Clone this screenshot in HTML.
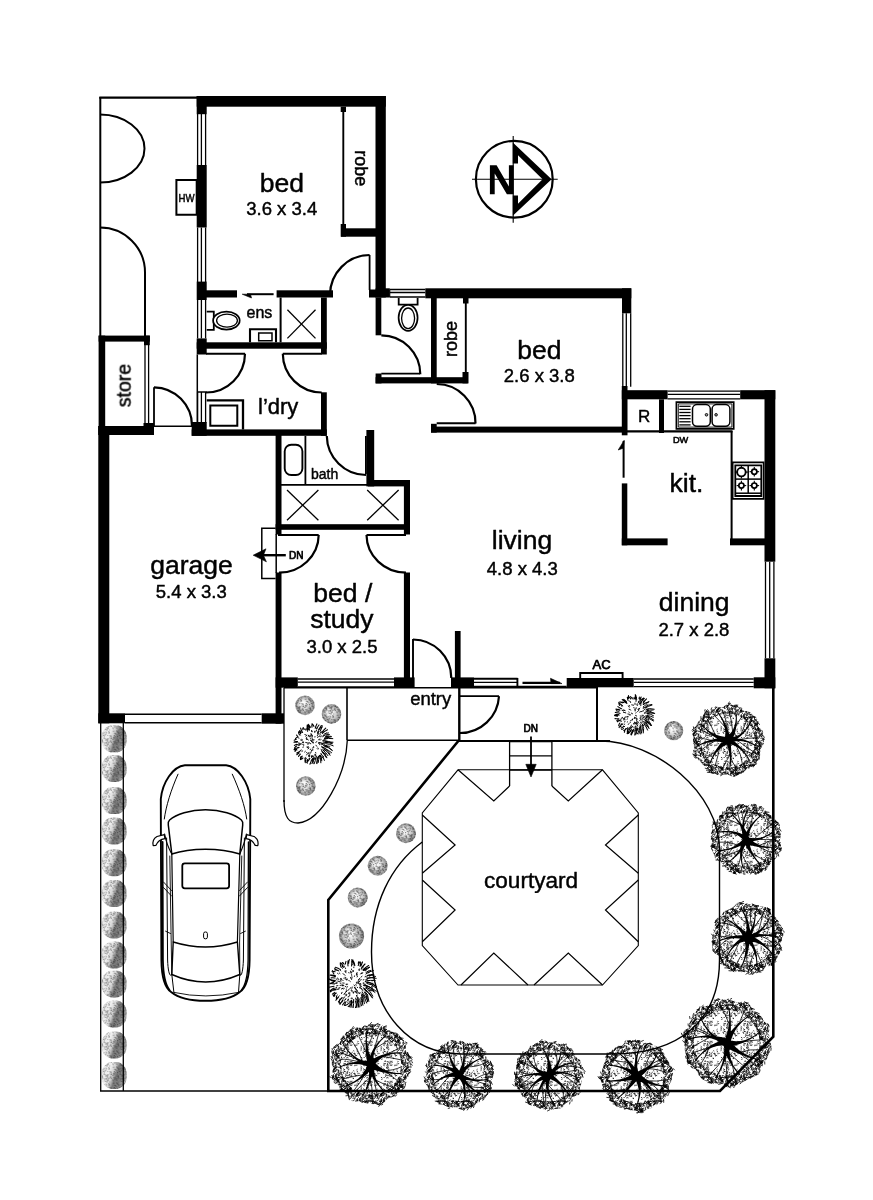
<!DOCTYPE html>
<html><head><meta charset="utf-8"><title>Floor plan</title>
<style>html,body{margin:0;padding:0;background:#fff;}svg{display:block;}text{font-family:"Liberation Sans",sans-serif;}</style>
</head><body>
<svg width="873" height="1200" viewBox="0 0 873 1200">
<rect width="873" height="1200" fill="#fff"/>
<defs>
<pattern id="pRim" width="24" height="24" patternUnits="userSpaceOnUse"><path d="M10.9,13.4l1.4,-.7l1.1,-.5M4.4,12.3l-1.3,-1.4l-.7,.5M2.2,19.4l-.4,-1l1.5,-.3M26.2,19.4l-.4,-1l1.5,-.3M15.7,14.8l.6,.9l.3,.6M4.6,5.8l1.5,.3l1.4,0M12.5,15.4l-1.8,0l-.9,.1M23.9,23.9l1,-1.6l-.1,-.8M23.9,-.1l1,-1.6l-.1,-.8M-.1,23.9l1,-1.6l-.1,-.8M-.1,-.1l1,-1.6l-.1,-.8M6.9,1.7l.1,-1.5l1,-.2M6.9,25.7l.1,-1.5l1,-.2M23,20.3l1.3,0l.1,1.1M-1,20.3l1.3,0l.1,1.1M23.5,9.5l1.6,.8l.1,.9M-.5,9.5l1.6,.8l.1,.9M2.1,8l1.9,-.4l0,-.8M26.1,8l1.9,-.4l0,-.8M2.4,1.4l.4,-1.2l.5,-.9M2.4,25.4l.4,-1.2l.5,-.9M26.4,1.4l.4,-1.2l.5,-.9M26.4,25.4l.4,-1.2l.5,-.9M4.6,17.6l1.2,1.3l.9,-.5M5.1,6.5l1.9,-.4l.9,-1.2M5.1,9.5l1.1,-1.4l-1.1,-1.1M5.1,6.2l.2,-1.4l-.4,-.6M2.2,14l.1,1.7l.5,.9M26.2,14l.1,1.7l.5,.9M23,11.6l-1.8,-.9l-.6,.5M-1,11.6l-1.8,-.9l-.6,.5M21.8,19.6l0,1.2l-1.2,1M-2.2,19.6l0,1.2l-1.2,1M4.7,22.8l1.3,-1.2l.4,-.6M4.7,-1.2l1.3,-1.2l.4,-.6M.9,23.1l.1,1.8l1.2,.8M.9,-.9l.1,1.8l1.2,.8M24.9,23.1l.1,1.8l1.2,.8M24.9,-.9l.1,1.8l1.2,.8M14.3,7l.8,1.7l.7,-.4M13.4,20.5l-1,-.9l.5,-.6M.4,6.5l-1,.4l-.1,1M24.4,6.5l-1,.4l-.1,1M13.7,3.2l-1.3,1.6l-.8,-1M16.6,14l.7,.8l1,-1.1M16.8,23.1l1.7,.2l1.3,.1M16.8,-.9l1.7,.2l1.3,.1M7.7,24l1.5,.8l.4,1.5M7.7,0l1.5,.8l.4,1.5M17.7,16.9l.6,-2l-.3,-1.2M21.6,20.9l-1.7,1l-.8,-.8M-2.4,20.9l-1.7,1l-.8,-.8M15,9.2l-1.5,-.9l-.7,1M23.8,21.1l-.2,-1.5l.8,-.9M23.8,-2.9l-.2,-1.5l.8,-.9M-.2,21.1l-.2,-1.5l.8,-.9M-.2,-2.9l-.2,-1.5l.8,-.9M10.6,20.1l1.6,1l.5,-1.1M11.5,5.5l-.5,-1.5l.1,-1.5M6.1,.3l-.6,1.7l.5,.6M6.1,24.3l-.6,1.7l.5,.6M21.7,15.8l-1.9,.7l-.7,1.1M-2.3,15.8l-1.9,.7l-.7,1.1M4.8,10.3l.7,-2l1,.1M14,7.6l1,1.2l-.7,1.3M17.1,22.8l-.2,1.2l0,.9M17.1,-1.2l-.2,1.2l0,.9M5.1,9.9l-1.1,-1.1l-1.4,-.2M23.6,10.9l.9,.5l-.2,.6M-.4,10.9l.9,.5l-.2,.6M17,13.7l-.7,1.8l.7,.2M10.9,.6l.6,-1.1l-.5,-.5M10.9,24.6l.6,-1.1l-.5,-.5M15.1,10.7l-1.2,-1.3l.5,-1.5M16.4,4.8l-1.2,.2l.4,1M17.1,4.3l-.2,1.4l-.8,.7M14.7,18.1l-1.5,1.2l-.5,-.5M22.4,17.3l1.1,1.1l.5,1.4M-1.6,17.3l1.1,1.1l.5,1.4M9,13.7l1.4,-1.3l.7,.8M15.6,4.9l-.4,-2l.4,-1.2M5.1,21.6l2.2,-.3l1.4,0M5.1,-2.4l2.2,-.3l1.4,0M7.7,21.8l.9,-1.1l-.8,-.7M7.7,-2.2l.9,-1.1l-.8,-.7M13.2,18.4l-1,.1l-.3,-.6M19.2,4.1l-1,1.7l.5,.5M12.4,17.4l1,-1.5l.9,.6M22.8,2.1l.3,1.6l1.1,.8M22.8,26.1l.3,1.6l1.1,.8M-1.2,2.1l.3,1.6l1.1,.8M-1.2,26.1l.3,1.6l1.1,.8M15.3,12.5l.9,-1.4l-.1,-1M20.3,21.6l.5,2l-1.1,.2M20.3,-2.4l.5,2l-1.1,.2M13.8,4.8l-1.6,-.4l-.5,-.4M23.3,12.4l-1.6,1.1l-1,.4M-.7,12.4l-1.6,1.1l-1,.4M16.6,1.6l-1.5,-.4l.5,-1.4M16.6,25.6l-1.5,-.4l.5,-1.4M6.5,11.4l1.1,1.1l-.5,1.4M11.4,7.6l.6,1.6l-.7,.3M18.7,.5l.4,1.2l-.3,.9M18.7,24.5l.4,1.2l-.3,.9M8.5,14.9l1.5,1.1l.8,-.7M6,4.7l-1.5,-.3l-1,.3M12.7,3.8l.5,1.7l-.2,1.1M20.4,14.7l.8,-1l1.4,-.1M21.7,7.6l-.8,1.9l.9,1.3M-2.3,7.6l-.8,1.9l.9,1.3M21.3,3.2l.1,1.9l.6,.4M-2.7,3.2l.1,1.9l.6,.4M20,10.1l.3,-1.1l-.1,-1.3M.4,4.8l-.9,-1.9l.7,-.2M24.4,4.8l-.9,-1.9l.7,-.2M12.1,18.2l-1.8,0l-.3,.6M2.5,.9l-1.5,-.5l-.6,-.4M2.5,24.9l-1.5,-.5l-.6,-.4M26.5,.9l-1.5,-.5l-.6,-.4M26.5,24.9l-1.5,-.5l-.6,-.4M4.4,4.9l1.2,-1.8l.6,.4M1.5,22.8l-1.9,.5l-.7,.8M1.5,-1.2l-1.9,.5l-.7,.8M25.5,22.8l-1.9,.5l-.7,.8M25.5,-1.2l-1.9,.5l-.7,.8M12.4,10.3l-.8,-.6l-.3,-1.4M4.4,10.9l-.1,-1.5l-.7,-.3M12.3,.4l1.5,-1.2l1.5,.1M12.3,24.4l1.5,-1.2l1.5,.1M15.1,9.7l-1.3,-.9l1,-1M6.2,21.9l-.1,-1.9l.9,-.5M6.2,-2.1l-.1,-1.9l.9,-.5M21.5,21.1l-.7,-1.8l.6,-.8M21.5,-2.9l-.7,-1.8l.6,-.8M-2.5,21.1l-.7,-1.8l.6,-.8M-2.5,-2.9l-.7,-1.8l.6,-.8M17.3,1.7l-.9,1.3l.9,.4M17.3,25.7l-.9,1.3l.9,.4M15.3,15l.2,2.1l-.4,.8M15.8,13.7l-1.4,-.3l.5,-1.1M16.8,18.3l1,-.1l1.3,.4M6.2,9.6l1.2,.4l.7,-.1M6,21.7l-1.5,-.5l.5,-1.1M6,-2.3l-1.5,-.5l.5,-1.1M23.9,15.3l.4,-1l.9,-1M-.1,15.3l.4,-1l.9,-1M1.1,22.3l.8,1.3l1.1,-.2M1.1,-1.7l.8,1.3l1.1,-.2M25.1,22.3l.8,1.3l1.1,-.2M25.1,-1.7l.8,1.3l1.1,-.2M14.7,1.4l1.4,-.5l1.2,-.3M14.7,25.4l1.4,-.5l1.2,-.3M8.8,6.9l-.9,-1.4l-1.3,-.3M7.1,.3l0,1.1l1.3,.4M7.1,24.3l0,1.1l1.3,.4M9.4,21.5l0,-1.1l1.5,.3M9.4,-2.5l0,-1.1l1.5,.3M1.8,21.7l-1.4,.7l-.3,-.8M1.8,-2.3l-1.4,.7l-.3,-.8M25.8,21.7l-1.4,.7l-.3,-.8M25.8,-2.3l-1.4,.7l-.3,-.8M12.6,22.5l-.3,-1.5l1.4,0M12.6,-1.5l-.3,-1.5l1.4,0M14.5,2.8l-1.1,-1.1l-.6,.2M14.5,26.8l-1.1,-1.1l-.6,.2M12.7,3l-1.7,.6l-.7,.4M12.7,27l-1.7,.6l-.7,.4M14,10.1l.3,-1.6l1.4,.6M17.6,5.7l1.6,1.4l-.2,1.2M8.6,6.5l-.7,-1.5l-.1,-1.2M18.1,4.6l0,2.2l-1.5,.1M.9,1.5l-.2,1.5l-.4,.6M.9,25.5l-.2,1.5l-.4,.6M24.9,1.5l-.2,1.5l-.4,.6M24.9,25.5l-.2,1.5l-.4,.6M13,1.7l1.6,.9l.9,.8M13,25.7l1.6,.9l.9,.8M9,11.5l.3,1.4l-.9,1.2M1.8,2.9l.6,-1.6l.8,-.2M1.8,26.9l.6,-1.6l.8,-.2M25.8,2.9l.6,-1.6l.8,-.2M25.8,26.9l.6,-1.6l.8,-.2M10.2,6.2l.5,-1.3l1.3,-1M7.8,13.2l-.1,-2.1l-.3,-.9M2.3,21l1,.5l.8,.7M2.3,-3l1,.5l.8,.7M26.3,21l1,.5l.8,.7M26.3,-3l1,.5l.8,.7M16.4,7.2l.2,-1.1l-1,-.8M2,7.3l-.3,-1.8l-.6,-.4M26,7.3l-.3,-1.8l-.6,-.4M8.6,17.4l-.8,.9l-1.2,.1M22,22.6l1.3,-.8l.8,.5M22,-1.4l1.3,-.8l.8,.5M-2,22.6l1.3,-.8l.8,.5M-2,-1.4l1.3,-.8l.8,.5M7.6,9.6l1.9,-.8l.2,-.9M8.8,8.7l-1.2,.9l.2,1.1M19.1,13l.9,-1.4l-.8,-1.1M21.1,6.8l1.6,.2l1.1,.3M-2.9,6.8l1.6,.2l1.1,.3M23.2,15.6l.4,-1l.7,-1.2M-.8,15.6l.4,-1l.7,-1.2M2,2l-.2,-2.1l-1.2,0M2,26l-.2,-2.1l-1.2,0M26,2l-.2,-2.1l-1.2,0M26,26l-.2,-2.1l-1.2,0M3.5,17.9l-.8,-1l-1.4,.1M12.5,18.4l-1.1,.9l-.7,-1.1M11.8,12.9l-.3,-1.8l1,-.3M19.8,16l1.2,-1.6l1.4,.4M23,15.4l-1.8,-.3l-.3,-1M-1,15.4l-1.8,-.3l-.3,-1M10.1,3.5l-.1,-2.2l-.4,-.7M4.9,10.2l-.6,2.1l.9,.2M2.8,15.6l.2,-1.2l-1,-.2M26.8,15.6l.2,-1.2l-1,-.2M14,21.8l1.1,.3l.5,-.6M14,-2.2l1.1,.3l.5,-.6M5.6,17.2l-1.1,-.7l-.8,.5M4.1,18.2l-.6,1.5l-1.1,0M6.3,21.3l1.2,-.7l1.5,-.6M6.3,-2.7l1.2,-.7l1.5,-.6M11.6,5.3l2,.7l.2,1M12.7,12.4l-.3,2.2l-.6,.6M.3,11.3l-1.4,1.4l-1.2,0M24.3,11.3l-1.4,1.4l-1.2,0M3.8,3.8l-.6,1.2l-1.1,-.2M15.3,23.8l-.2,1.6l1.3,.6M15.3,-.2l-.2,1.6l1.3,.6M0,19.7l1.1,-1.6l-.7,-.5M24,19.7l1.1,-1.6l-.7,-.5M17.2,2.3l-1.5,.2l-.1,-1.2M17.2,26.3l-1.5,.2l-.1,-1.2M20.6,7.3l.4,-1.5l.7,.1M19.8,5l-1.6,-.4l-.8,1.2M7.5,7.5l1.2,.6l1.2,.5M8.6,16.5l1.2,.9l1.4,.8M19.9,15.7l1.4,.1l.6,.6M13.5,11l2.2,.1l.3,.7M14.8,7l-1.2,1.2l-.1,.9M9.4,16l0,1.2l-.7,.6M22.7,13.5l-.2,-1.4l.6,-.4M-1.3,13.5l-.2,-1.4l.6,-.4M3.4,2.3l-.8,-1.7l-1,0M3.4,26.3l-.8,-1.7l-1,0M20.1,14.2l1.1,.7l.6,-.4M9.8,1.7l1.3,-.7l1.1,-.6M9.8,25.7l1.3,-.7l1.1,-.6M18.4,19.7l-1.1,.9l-.3,.5M9.6,16.8l1.9,-.2l1.1,.5M.4,7.9l-1,1.5l.7,.7M24.4,7.9l-1,1.5l.7,.7M12.2,18.9l.8,-1.5l-.9,-1M21.7,13.2l-1,1.3l.8,1M-2.3,13.2l-1,1.3l.8,1M23.7,12.4l-.4,-2l-1.5,-.4M-.3,12.4l-.4,-2l-1.5,-.4M15.1,4.7l1.1,.6l.9,.9M7.9,22.3l-1,1.2l1,1.2M7.9,-1.7l-1,1.2l1,1.2M3.3,21.7l-1.6,-.4l-.8,-.4M3.3,-2.3l-1.6,-.4l-.8,-.4M21.8,23.8l.7,-1.6l-1.1,-.8M21.8,-.2l.7,-1.6l-1.1,-.8M-2.2,23.8l.7,-1.6l-1.1,-.8M-2.2,-.2l.7,-1.6l-1.1,-.8M6.9,21.5l.1,1.7l-.7,.3M6.9,-2.5l.1,1.7l-.7,.3M13.1,1.8l1.2,.2l-.6,1.4M13.1,25.8l1.2,.2l-.6,1.4M15.8,7.4l-.9,-1.7l-1,-.7M19.3,.4l.5,1.5l1,0M19.3,24.4l.5,1.5l1,0M13.7,4.2l-1.3,-.2l-.9,-.3M15.4,.9l-.6,-1l1.1,-.5M15.4,24.9l-.6,-1l1.1,-.5M11.3,9.9l-1.3,-1.3l.2,-1.3M11.7,23.9l1.1,-1.7l.2,-1M11.7,-.1l1.1,-1.7l.2,-1M13.6,21.7l-1.6,-.3l-1.5,.1M13.6,-2.3l-1.6,-.3l-1.5,.1M7.7,1.3l-.3,-2.1l.8,-.9M7.7,25.3l-.3,-2.1l.8,-.9M18,7.3l-.9,-.6l-.8,.7M12.1,9.5l1.7,.6l.8,.3M7.4,9.5l.1,1.1l-1.5,.3M16,20.8l-1.7,.9l-.1,1.3M13.6,21.7l1.6,1.1l.8,-.8M13.6,-2.3l1.6,1.1l.8,-.8M22.8,0l.1,1.4l.4,.5M22.8,24l.1,1.4l.4,.5M-1.2,0l.1,1.4l.4,.5M-1.2,24l.1,1.4l.4,.5M21.5,19.6l-1.1,.9l-.6,.2M-2.5,19.6l-1.1,.9l-.6,.2M.7,21.6l-.6,1.5l-1.5,-.5M.7,-2.4l-.6,1.5l-1.5,-.5M24.7,21.6l-.6,1.5l-1.5,-.5M24.7,-2.4l-.6,1.5l-1.5,-.5M11.3,5l-.6,2l-.8,-.1M20.1,8.5l-1.2,.2l-.6,-1.5M4.8,15.2l.7,1.9l.6,-.3M17.4,7.5l1.7,-1.2l.7,.1M16.7,22.5l-1,.4l-.2,.9M16.7,-1.5l-1,.4l-.2,.9M17.1,4.7l.5,1.2l-.2,1.4M8.9,15.9l1.3,-1.1l-.1,-.9" fill="none" stroke="#000" stroke-width="0.8" stroke-linecap="round"/></pattern>
<pattern id="pDot" width="20" height="20" patternUnits="userSpaceOnUse"><path d="M18.1,13.2l-.1,.7M2.2,19.2l-.6,.2M10.6,1.4l-.4,-.3M5.3,15.8l.4,.2M14.9,5.2l-.1,.6M4,17.5l.3,0M9.3,14.8l-.6,.6M10,3.9l-.6,-.2M7.3,13l.1,-.6M10.1,16.6l-.2,-.6M18.6,3.8l.1,-.4M12.1,5l-.7,.3M15.4,15.5l.1,.6M4.7,11.5l-.3,0M11.8,14.1l-.7,-.4M3.9,3.4l.6,.1M8.8,8.9l-.1,.8M1.9,17.7l-.6,-.3M15.5,5l.3,.4M1.3,6.5l-.4,-.4M5.5,11.7l.7,.4M3.8,5.3l.4,.6M16.3,15.4l.5,.2M7.4,4.6l.3,-.1M9.8,15l.4,0M9.2,14.7l.4,.1M17.4,3.2l-.4,.3M8.6,2l.9,.2M15,14.4l.1,.4M11,5.1l-.8,.2M7.4,6.9l.7,-.1M1.3,8.2l-.2,-.3M7,13.7l.4,-.5M17.3,9.3l-.6,.5M7.7,15.3l.1,.5M4,10.9l.2,.4M4.6,9.4l-.2,.5M19.4,13.4l.3,-.3M7.8,1.9l-.2,-.5M5.7,.9l.2,.4M8,18l-.1,-.4M7.4,3.4l.5,-.2M15,14.2l.3,-.2M6.6,7.8l.7,.4M6.7,15.1l-.3,0M8,5l.4,.1M11.8,1.1l-.2,.5M10.8,3.1l-.1,-.4M14.3,13.2l.3,.3M5.8,14l-.4,.3M17,4.8l-.1,.5M4.6,1.3l.7,.1M11.3,15.9l.5,-.1M13.2,18l.2,.7M13.2,18.6l.3,-.3M12.5,2.2l-.5,.2M1.6,7.8l-.3,.5M5.8,3.5l-.5,.3M3.7,13.1l0,.4M7,8.5l.4,.5M13.8,11l-.1,-.3M7.9,7.4l.5,.2M1.5,9.9l-.5,-.3M6.7,5.3l.5,.1M17.4,11.2l-.1,.7M4,9.4l-.7,-.6M7.4,11.4l.7,-.3M12.4,12.3l-.5,.3M5.7,16.3l.4,-.4M17.8,1.2l.4,.5M6.4,7.3l.4,-.1M4.2,4.8l-.2,-.4M.5,10.8l-.3,.3M9.9,12.9l-.6,-.2M11.2,16.3l.5,-.1M7.1,17.3l-.3,.7M13.7,13.5l.8,-.2M3.5,12.3l-.6,0" fill="none" stroke="#000" stroke-width="0.75" stroke-linecap="round"/></pattern>
<pattern id="pFine" width="16" height="16" patternUnits="userSpaceOnUse"><path d="M6,4.7h.4M11.8,8.5h.4M4,4.1h.4M5.3,3h.4M8.2,2.2h.4M1.3,1.4h.4M1.9,11.2h.4M2,7.3h.4M12.2,7.7h.4M2.8,13.6h.4M13.7,1.1h.4M4.2,8.1h.4M12.6,6.3h.4M11.3,4.2h.4M11.3,5.3h.4M5.4,12h.4M13.3,13.1h.4M9,6.8h.4M11.2,9.9h.4M13.1,12.6h.4M2.2,6.1h.4M10.6,3.9h.4M3.1,.5h.4M9.3,14.8h.4M15.2,2.4h.4M10.9,6.8h.4M10,6.4h.4M14.7,15.5h.4M1,11.3h.4M2.1,1h.4M4.7,11.6h.4M15.6,2.2h.4M5.4,.7h.4M8.7,7.7h.4M6.1,5.1h.4M12.6,13.2h.4M4.7,6.3h.4M9.8,12.1h.4M15.4,6.3h.4M11,8.7h.4M12.6,2.6h.4M3,1.9h.4M14.7,4.2h.4M7.8,2.2h.4M5.3,.6h.4M9,2.5h.4M9.9,4.5h.4M3.8,7.7h.4M5.9,4.3h.4M1.1,1.3h.4M14,5.1h.4M1.5,3.1h.4M7.7,15.7h.4M3.4,13.7h.4M7.8,6.7h.4M12.7,6.4h.4M1.2,8.8h.4M10.4,9.9h.4M4.6,14.8h.4M13.6,15.6h.4M7.1,13.1h.4M11.5,3h.4M.7,2.9h.4M2.1,1.4h.4M5.8,11.9h.4M5.1,8.2h.4M.5,3.5h.4M15.1,.5h.4M8.4,12.8h.4M12.5,11.6h.4M6.4,12.7h.4M13,12.1h.4M15.5,1.9h.4M14.9,6.5h.4M11.2,4.2h.4M14.3,.7h.4M9.2,3.8h.4M6.3,6h.4M10.4,12.8h.4M5.9,10.1h.4M5.8,4.6h.4M14.2,5.3h.4M1.7,5.5h.4M11.7,3.6h.4M11.7,8.7h.4M10.8,3h.4M1.9,2.5h.4M5.7,6.9h.4M.4,8h.4M6.5,5.3h.4M8.6,15h.4M3.5,13.9h.4M5.2,11.9h.4M2,15.5h.4M6.9,15.1h.4M3.7,6.6h.4M11.2,3h.4M4.5,10.7h.4M14.9,5.3h.4M3.1,5.8h.4M15.5,2.6h.4M10.1,6.1h.4M10.2,3.6h.4M9.8,14h.4M13.5,10h.4M8.1,9h.4M2.1,13.2h.4M10.9,7.3h.4M10.5,6.8h.4M6.2,3.8h.4M9.6,9.1h.4M8.2,.8h.4M10,7.2h.4M9.4,9.5h.4M14.6,2.6h.4M7.5,15.6h.4M11.7,5.1h.4M11.6,15.5h.4M6.5,13.7h.4M2.3,15.5h.4" fill="none" stroke="#000" stroke-width="0.6" stroke-linecap="round"/></pattern>
<filter id="soft" x="-20%" y="-20%" width="140%" height="140%"><feGaussianBlur stdDeviation="0.55"/></filter>
<radialGradient id="gb" cx="0.5" cy="0.5" r="0.5" fx="0.4" fy="0.38"><stop offset="0" stop-color="#ffffff"/><stop offset="0.3" stop-color="#f0f0f0"/><stop offset="0.62" stop-color="#c8c8c8"/><stop offset="0.88" stop-color="#9a9a9a"/><stop offset="1" stop-color="#a4a4a4"/></radialGradient>
<linearGradient id="gh" x1="0" y1="0.2" x2="1" y2="0.6"><stop offset="0" stop-color="#e4e4e4"/><stop offset="0.3" stop-color="#f0f0f0"/><stop offset="0.46" stop-color="#d2d2d2"/><stop offset="0.6" stop-color="#797979"/><stop offset="0.8" stop-color="#828282"/><stop offset="1" stop-color="#b0b0b0"/></linearGradient>
</defs>
<g id="plants">
<g filter="url(#soft)"><rect x="101.8" y="725.3" width="24.8" height="27" rx="10.7" ry="11.6" fill="url(#gh)"/><rect x="101.8" y="725.3" width="24.8" height="27" rx="10.7" ry="11.6" fill="url(#pFine)" opacity="0.4"/></g>
<g filter="url(#soft)"><rect x="101.8" y="755" width="24.8" height="27" rx="10.7" ry="11.6" fill="url(#gh)"/><rect x="101.8" y="755" width="24.8" height="27" rx="10.7" ry="11.6" fill="url(#pFine)" opacity="0.4"/></g>
<g filter="url(#soft)"><rect x="101.8" y="787.1" width="24.8" height="27" rx="10.7" ry="11.6" fill="url(#gh)"/><rect x="101.8" y="787.1" width="24.8" height="27" rx="10.7" ry="11.6" fill="url(#pFine)" opacity="0.4"/></g>
<g filter="url(#soft)"><rect x="101.8" y="817.5" width="24.8" height="27" rx="10.7" ry="11.6" fill="url(#gh)"/><rect x="101.8" y="817.5" width="24.8" height="27" rx="10.7" ry="11.6" fill="url(#pFine)" opacity="0.4"/></g>
<g filter="url(#soft)"><rect x="101.8" y="849.2" width="24.8" height="27" rx="10.7" ry="11.6" fill="url(#gh)"/><rect x="101.8" y="849.2" width="24.8" height="27" rx="10.7" ry="11.6" fill="url(#pFine)" opacity="0.4"/></g>
<g filter="url(#soft)"><rect x="101.8" y="880" width="24.8" height="27" rx="10.7" ry="11.6" fill="url(#gh)"/><rect x="101.8" y="880" width="24.8" height="27" rx="10.7" ry="11.6" fill="url(#pFine)" opacity="0.4"/></g>
<g filter="url(#soft)"><rect x="101.8" y="911.5" width="24.8" height="27" rx="10.7" ry="11.6" fill="url(#gh)"/><rect x="101.8" y="911.5" width="24.8" height="27" rx="10.7" ry="11.6" fill="url(#pFine)" opacity="0.4"/></g>
<g filter="url(#soft)"><rect x="101.8" y="941.5" width="24.8" height="27" rx="10.7" ry="11.6" fill="url(#gh)"/><rect x="101.8" y="941.5" width="24.8" height="27" rx="10.7" ry="11.6" fill="url(#pFine)" opacity="0.4"/></g>
<g filter="url(#soft)"><rect x="101.8" y="970.5" width="24.8" height="27" rx="10.7" ry="11.6" fill="url(#gh)"/><rect x="101.8" y="970.5" width="24.8" height="27" rx="10.7" ry="11.6" fill="url(#pFine)" opacity="0.4"/></g>
<g filter="url(#soft)"><rect x="101.8" y="1000.5" width="24.8" height="27" rx="10.7" ry="11.6" fill="url(#gh)"/><rect x="101.8" y="1000.5" width="24.8" height="27" rx="10.7" ry="11.6" fill="url(#pFine)" opacity="0.4"/></g>
<g filter="url(#soft)"><rect x="101.8" y="1031.5" width="24.8" height="27" rx="10.7" ry="11.6" fill="url(#gh)"/><rect x="101.8" y="1031.5" width="24.8" height="27" rx="10.7" ry="11.6" fill="url(#pFine)" opacity="0.4"/></g>
<g filter="url(#soft)"><rect x="101.8" y="1062" width="24.8" height="27" rx="10.7" ry="11.6" fill="url(#gh)"/><rect x="101.8" y="1062" width="24.8" height="27" rx="10.7" ry="11.6" fill="url(#pFine)" opacity="0.4"/></g>
<g filter="url(#soft)"><ellipse cx="305" cy="705.4" rx="9.8" ry="9.8" fill="url(#gb)"/><ellipse cx="305" cy="705.4" rx="9.8" ry="9.8" fill="url(#pFine)" opacity="0.55"/></g>
<g filter="url(#soft)"><ellipse cx="331.5" cy="713.9" rx="9.8" ry="9.8" fill="url(#gb)"/><ellipse cx="331.5" cy="713.9" rx="9.8" ry="9.8" fill="url(#pFine)" opacity="0.55"/></g>
<g filter="url(#soft)"><ellipse cx="305.8" cy="786" rx="9.8" ry="9.8" fill="url(#gb)"/><ellipse cx="305.8" cy="786" rx="9.8" ry="9.8" fill="url(#pFine)" opacity="0.55"/></g>
<g filter="url(#soft)"><ellipse cx="673.7" cy="730.7" rx="9.6" ry="9.6" fill="url(#gb)"/><ellipse cx="673.7" cy="730.7" rx="9.6" ry="9.6" fill="url(#pFine)" opacity="0.55"/></g>
<g filter="url(#soft)"><ellipse cx="406" cy="833.3" rx="10" ry="10" fill="url(#gb)"/><ellipse cx="406" cy="833.3" rx="10" ry="10" fill="url(#pFine)" opacity="0.55"/></g>
<g filter="url(#soft)"><ellipse cx="377.7" cy="865.7" rx="10" ry="10" fill="url(#gb)"/><ellipse cx="377.7" cy="865.7" rx="10" ry="10" fill="url(#pFine)" opacity="0.55"/></g>
<g filter="url(#soft)"><ellipse cx="357.7" cy="897.5" rx="10" ry="10" fill="url(#gb)"/><ellipse cx="357.7" cy="897.5" rx="10" ry="10" fill="url(#pFine)" opacity="0.55"/></g>
<g filter="url(#soft)"><ellipse cx="351.5" cy="936" rx="12.6" ry="12.6" fill="url(#gb)"/><ellipse cx="351.5" cy="936" rx="12.6" ry="12.6" fill="url(#pFine)" opacity="0.55"/></g>
<g fill="none" stroke="#000" stroke-linecap="round"><path d="M312.6,758.5Q312.6,761 313.1,763.5M311.6,759.7Q311.2,761.9 309.9,764.1M309.9,758.4Q309,760.6 306.7,762.3M307.6,759.5Q307.1,761.3 307.3,763.2M305.9,760.3Q305.5,761.1 305.3,761.9M305.3,758.5Q304.7,760.3 305.3,762.7M302.9,758Q301.9,759 300.5,759.6M302.2,756.2Q301.2,757.4 300.3,758.7M301,756.6Q300.4,757.5 300.5,758.8M300.4,754.1Q299.4,755.1 298.5,756.3M299.1,753Q297.9,753.8 296.8,754.7M299.8,751.6Q298.3,752.4 296.7,753M297,750Q295.7,750.2 294.1,749.7M296.6,749.3Q295.6,749.9 295,751.5M298.9,747.4Q296.4,748.1 294.1,749.5M296.6,746.1Q295.5,746.6 294.5,748.1M296.8,744.4Q295.6,744.6 294.4,745.4M297.2,742.2Q295.7,742 294.2,742M297.5,741.6Q295.8,741.5 294,742.3M296.2,739.5Q295.2,739.5 294.2,740.2M297.2,737.4Q296.5,737.5 295.5,738.6M297.9,736.6Q297.1,736.1 296.6,735.1M299.5,734.9Q298.7,733.9 298.5,732M300.6,733.5Q299.7,732.6 299,731.5M301.2,732.6Q300.3,731.7 299.7,730.5M302.6,732.5Q301.2,730.6 300.6,728.1M302.9,729.8Q302.7,729 303.3,727.6M305.5,729.9Q304.5,728.8 302.5,728.3M307.5,730.3Q306.8,727.8 307.3,724.9M308.4,729.5Q307.9,727.1 308.6,724.4M309.7,728Q309.3,726.6 308.5,725.3M310.5,727.3Q310.1,726.1 308.9,725.1M312,727.1Q311.9,726 311.8,724.9M313.9,726.4Q313.6,725.1 312,723.8M315.2,728.3Q315.7,726 316.9,723.9M316.8,728.9Q317.5,726.9 319,725M319,729.3Q319.9,727.3 321.3,725.5M320.6,728Q321.1,727.4 322.2,727.2M320.2,731.1Q321.4,728.6 322.3,725.8M322.4,731.8Q323.9,729.9 325.7,728.2M322.3,733.3Q324.5,731.1 327.5,729.7" stroke-width="1.1"/><path d="M325.7,743.6Q329.5,743.9 333.2,745.8M324.5,745.1Q328.7,746.2 332,750.3M323.4,745.6Q328.2,746.9 332.4,750.3M322.9,747Q327.1,749.1 330,753.8M324.7,748.3Q328.4,750 331.6,752.7M323.5,748.8Q327.4,751.1 330.1,755.3M322.8,749.8Q325.8,752.1 327.9,755.6M322.3,751Q325.1,753.6 326.8,757.4M321.8,751.7Q324.5,754.5 326.5,757.8M320.9,753.3Q323.2,756.5 324.4,760.4M320.5,755Q321.7,757.6 321.8,760.8M319.6,755.4Q321,758.7 320.9,762.8M318.5,756.2Q319.2,759.1 318.3,762.5M317.5,757.5Q317.9,760.2 316.7,763.2M316.7,756.2Q317.5,759.8 317,763.7M315.6,757.8Q315.7,760.7 314.2,763.8M314.1,758.1Q313.8,760.8 311.9,763.5M324.5,734Q326.2,733 328.5,732.9M322.9,735.9Q325.6,734.4 329.4,734.5M325.3,736.7Q327.7,735.7 330.9,736.3M324.5,738.5Q327.8,737.2 331.5,736.7M324.3,739.1Q328.2,737.9 332.8,738.6M324.9,741Q328.5,740.8 332.4,743.1M323.9,742.2Q328.4,741.7 333,742.2M325.9,742.4Q328.9,742.4 332,743.7" stroke-width="1.0"/><path d="M323.8,743.2l.6,0M314.1,758l.1,1.4M311.1,751.9l-.1,.5M311.4,741.4l-.9,-1.2M309.8,756l-.2,.7M318.6,743l1.1,-.2M325.2,742.5l1.1,-.1M312.6,755.9l0,.7M322.8,740.3l.7,-.3M310.2,752.9l-.3,1M306.7,739.4l-.6,-.4M324.1,749.3l.4,.2M298.2,744.6l-1,0M317.3,735.7l.4,-.9M323.1,756l.5,.6M320.9,732.2l.3,-.5M309.3,736.9l-.7,-1.3M317.6,732.8l.5,-1.2M303.5,747l-.7,.2M326.2,746l1,.2M322.2,747.7l.5,.2M312.5,758.8l0,.8M307.3,738.9l-.7,-.6M300.2,743.9l-1.2,0M312.4,736.1l-.1,-.9M314.9,754.3l.2,1.4M320.7,739.8l.4,-.2M325.2,741l.7,-.2M315.8,756l.1,.4M307.6,731.5l-.4,-.9M320.4,755.9l.8,1.3M317.9,732l.5,-1.3M320.5,732.9l.5,-.7M327.5,736.7l1.1,-.6M307.3,746.7l-.5,.2M326.7,735.4l.9,-.6M308.6,747l-.6,.4M313.3,743l0,-.9M326.1,745.7l1.3,.2M315.6,752.4l.2,.7M314.8,731.8l.1,-.7M324.7,753.2l1,.8M319.2,743l1,-.2M309,754.7l-.4,.9M324.1,744.1l.7,0M300.2,744.6l-.6,0M321.9,744.2l1.4,0M298.9,747.5l-1.2,.3M322.3,743.3l1.1,-.1M303.7,742.1l-.8,-.2M326.6,738.5l1.1,-.5M318.3,732.4l.3,-.6M309.3,729.3l-.1,-.5M318.9,734.2l.2,-.4M299.3,743.1l-.8,-.1M312,742.1l-.8,-1.2M307.4,739.4l-1.1,-.8M303.5,742.6l-1.2,-.2M319.7,755.4l.6,1.1M311.7,756.6l-.1,1M309.3,729.6l-.4,-1.3M306.7,737.6l-.9,-.9M314.9,737.1l.1,-.6M311.6,731.5l-.1,-1M317.2,748.6l.5,.6M311.5,735.2l-.2,-.8M308.2,744.2l-.5,0M300.8,735.2l-.4,-.3M323.3,753.1l.6,.6M303.3,744.3l-.7,0M318,734l.3,-.6M311.3,734.9l-.3,-1.4M319,736.8l.6,-.8M319.5,744.6l.5,0M309,748l-1,.9M315.8,742.3l1.1,-.7M321.5,746.3l.5,.1M326.1,746.2l1.1,.2M320.8,733.1l.6,-.9M326.1,741.5l.5,-.1M324.8,739.1l1,-.4M302.4,739.7l-.7,-.3M313.1,760.1l0,1.4M322.5,732.1l.3,-.4M317.6,733.7l.6,-1.4M324.8,747l.5,.1M324.9,745.8l1.3,.2M315.9,745.5l1,.6M318.6,729.9l.3,-.8M313.7,756.1l0,.8M316.6,728.5l.1,-.5M311.6,750.2l-.2,.9M321.1,749.5l.4,.3M318.5,732l.3,-.7M301.5,743.9l-1.4,0M309,752.3l-.7,1.3M326.1,737.2l.9,-.5M309.2,730.6l-.4,-1.4M306.9,735.9l-.9,-1.2M306.8,742.7l-1.1,-.2M299,738.1l-.8,-.3M312.8,740.4l-.1,-1M312.8,749.3l-.1,1.1M308.8,743.2l-1.3,-.2M301.4,750l-1.3,.6M321.5,743.9l1.2,0M314.8,732.4l.1,-.8M324,734.3l.3,-.3M319.8,735.1l.4,-.6M312.9,742.9l-.3,-.7M323.2,741l.7,-.2M309.6,755l-.3,1M319.8,743l1.5,-.2M312.2,731.8l-.1,-.8M327.5,738l1.3,-.5M326.6,737.2l.8,-.4M303.9,745.1l-.5,.1M306.9,752.3l-.4,.5M312.3,759l0,.7M321.6,743.9l1.2,0M299.6,745.2l-1.5,.1M312.3,739.2l-.3,-1.4M313.6,746.6l.1,.9M323.1,741l1.3,-.4M302,740.4l-1.4,-.4M318.4,743l.8,-.2M310.7,739.1l-.3,-.6M316.3,731l.2,-.8M309,736.3l-.7,-1.2M324.5,754l.6,.6M319.3,739.9l.7,-.5M325.6,733.5l.7,-.6M322.8,736.6l1,-.8M307.4,753.7l-.8,1.3M312,755.9l-.1,1.2M317.6,737.5l.6,-1M308.3,747.1l-.9,.5M308.4,740l-.5,-.4M310.5,736.1l-.3,-.8M319.7,757.8l.4,.9M322,747.3l1,.4M319.1,729.8l.4,-.9M310.5,749.1l-.3,.6M323.4,750.3l.9,.5M310.2,736.9l-.4,-.9M321.2,737l.3,-.3M309,756l-.2,.6M306.5,729.4l-.4,-1M310.8,743.7l-.5,-.1M313.2,758.3l0,.4M325.5,750.5l.7,.3M312.9,747.6l-.1,.5M314,757.4l0,1M306.4,758.2l-.6,1.2M320.4,736.5l.7,-.8M309.7,742.9l-.6,-.2M315.6,754.5l.1,.7M311.7,755.7l-.1,.8M321.2,750l.8,.6M312.2,741.4l-.5,-1.1M322,756.9l.8,1.1M305.5,757.2l-.7,1.1M305.4,751.3l-.8,.7M324.7,737.7l.9,-.5M302.7,750.9l-.8,.5M326.6,747.2l.4,.1M317.9,747.9l.6,.5M313.7,758.6l0,1M313.8,740.2l.1,-.8M309.3,758.1l-.3,1.1M305.6,735.2l-.8,-.9M318.5,739.7l.7,-.6M328.5,746.1l1.3,.2M319.6,756.2l.4,.7M326.2,741.5l.9,-.2M312.1,736.9l-.2,-1" stroke-width="0.9"/></g>
<g fill="none" stroke="#000" stroke-linecap="round"><path d="M633.5,729.4Q633,732.3 631.3,735M632.5,730.2Q632,732.4 630.8,734.4M631.4,729.5Q630.5,731.7 628.3,733.5M629.7,729.1Q628.7,731.5 627.1,733.6M627.9,728.8Q627.1,731 627.4,733.6M626.7,728.5Q625.6,729.8 623.8,730.6M625.6,728.7Q624.7,730.3 624.4,732.3M623.5,728.6Q622.8,729.2 621.7,729.4M623.6,726.4Q622.5,727.4 621.1,728.1M621,726.5Q620.6,726.6 619.9,726.3M621.9,723.9Q620.2,725.4 619.1,727.6M619.8,723.2Q618.9,724 618.7,725.8M620.3,720.1Q618.8,720.8 617.3,721.8M618.2,719.7Q617.4,720 616.8,720.7M618.9,718.7Q617,718.9 615,718.6M617.5,716.1Q616,716 614.6,715.4M619.2,715Q617.1,715.2 614.9,715.8M618.5,714Q616.5,714.1 614.5,715.2M619,711.9Q617.2,711.8 615.3,712.5M619.9,710.1Q617.9,709.5 615.9,709.1M619.1,709.4Q617.9,709.3 616.4,710.3M620.9,708.5Q619.3,707.7 617.9,706.6M619.6,705.3Q618.8,704.3 618.8,702.4M621.7,705.2Q620.6,704.3 619.7,703.3M622.2,702.9Q621.2,702.1 619.8,701.9M623.8,702.6Q622.9,702 621.2,702.2M625.8,702.7Q624.3,700.9 622.2,699.5M626.6,702Q625.5,700.5 623.8,699.4M628,700.2Q627.5,698.8 627.3,697.3M628.5,698.4Q628.2,697.1 628.5,695.6M630.7,699Q630,697.6 628.3,696.4M632.2,698.7Q631.8,697.5 630.4,696.6M634.3,699Q634.6,697.3 635.9,695.5M635.6,699.3Q635.6,697 635.3,694.6M636.5,698.1Q636.4,697.2 635.9,696.3M639.1,698.6Q639.3,697.8 639.4,697M639.9,699.5Q640.4,698.3 641.1,697.1M640.6,700.7Q641.7,699.1 643.8,698M642.4,700.5Q643.2,699.4 644.3,698.6M643.3,702.7Q644.8,700.7 646.5,698.9M643.3,704.5Q645.2,702.7 648.3,702.1" stroke-width="1.1"/><path d="M647.2,715.5Q650.3,715.8 653.3,717.3M646.5,716.4Q650.4,717.4 653.8,720.1M646,717.3Q649.9,718.4 653.4,721M645.2,718Q649.3,720.1 651.6,725.5M645,719.6Q648.6,721.6 651.2,725.1M643.9,719.3Q647.9,721.7 650.9,725.7M645,721.5Q647.8,724 649,728.3M643,721.2Q646.3,724.1 648.8,728M644,723.8Q646.3,726.5 647.6,730.1M642.7,724.8Q644.4,728.1 643.3,733M642,725.7Q643.1,728.7 641.4,733M640.2,725.3Q641.6,729.2 640.8,734M640.1,726.6Q640.8,729.9 638.9,734M639.3,728.2Q639.5,730.9 637.4,734M637.5,728.3Q637.5,731.3 635.2,734.6M636.4,728.9Q636.6,731.4 636.2,733.9M635.1,728.5Q635.2,731.9 634.9,735.2M645.9,704.5Q647.5,703 649,701.3M646.1,706.3Q648.5,704.8 651.6,704.5M645.7,707.7Q648.7,706 652.1,705M646.1,709.2Q649.7,708 654.2,709.2M647.2,710.5Q650,709.8 653.2,710M645.9,711.7Q649.7,711.2 654,713M646.6,713.1Q650.6,712.7 654.7,713.4M647.5,713.6Q650.5,713.8 653.5,715.7" stroke-width="1.0"/><path d="M647.7,714.1l.7,-.1M636.2,728.2l.1,.9M629.3,714.2l-1.4,-.2M634.9,710l0,-1.2M634,730.4l-.1,1.2M629.2,712.2l-.4,-.2M622.1,706.4l-.8,-.5M647.3,709.7l1.3,-.6M627.9,727.3l-.6,1.1M639.3,708.8l.5,-.7M645.7,715.8l1.4,.1M626.1,703.1l-.8,-1.2M642.9,724.7l.4,.5M624.5,710.5l-1.3,-.6M635.5,715.4l1.2,.6M627,703.2l-.6,-1M630.4,722.2l-.2,.4M647.1,721.8l1.1,.6M636.9,704.9l.3,-1.2M638.6,710.5l.5,-.6M626.1,716.9l-1,.2M644.3,713l.8,-.2M620.5,720.3l-1,.4M647.8,721.8l1,.5M638.4,702.4l.4,-1.3M645.5,722.1l.8,.5M643.3,703.3l.4,-.6M635.9,725.9l.1,.7M627.6,721.8l-.4,.3M628.3,716.8l-.7,.2M647,705.4l.9,-.7M643.1,711l.6,-.3M639.7,727.4l.3,.7M631.4,727.4l-.2,.8M640.9,729.7l.2,.4M645.2,705.5l.7,-.7M635.9,729.8l.1,.7M630.6,710.2l-.9,-1.1M639.8,718.4l.6,.4M627.6,718.9l-.6,.3M635.5,727.7l.1,.8M635.2,711l.1,-1.3M621.7,721.1l-.9,.4M628.6,728.6l-.4,1M640.6,705.8l.5,-.8M645.6,726.3l1,1M642.6,719.2l.4,.2M642.3,720.9l.4,.3M635.3,726.3l0,.6M630.7,714.9l-1.4,0M639.8,704.4l.6,-1.2M642,723.8l.3,.4M640.5,719.7l.5,.4M646,707.2l1.2,-.8M629.5,709.7l-.5,-.5M625.1,719.5l-1.2,.5M639.3,703.7l.3,-.7M636.3,698.9l.1,-1.2M630.6,702.5l-.3,-1M636.8,721.8l.3,1.1M641.3,701.7l.2,-.4M636.5,720l.3,.9M643.6,708.5l.5,-.4M640.8,702.8l.6,-1.2M625.2,710.6l-1.1,-.5M622,718.7l-1.1,.3M632.5,730.4l-.1,.8M624.8,712.6l-1.4,-.3M639,728.6l.4,1.2M624.3,718.5l-.9,.3M634.5,722.1l0,.6M622.6,717.4l-.6,.1M622.8,705.8l-.9,-.7M637.6,723.6l.2,.6M633.2,705.6l-.1,-.8M635.8,713.1l.3,-.5M642.1,725.3l.3,.4M641.2,711.7l1.2,-.6M635.4,722.5l.1,1.1M643,724.8l.6,.7M644.7,713.1l.8,-.2M636.4,722.5l.3,1.3M648,723.5l.4,.2M632,705.1l-.1,-.5M635.2,717.5l.1,.5M640.5,722.2l.7,.8M625.1,702.5l-.6,-.8M646.1,721.9l.5,.3M629.8,727.3l-.5,1.3M639.9,700.5l.5,-1.4M644.1,716.5l.4,.1M637.6,711.6l.7,-.8M636.5,717.9l.8,1.2M640.9,703.2l.6,-1.2M642.5,717l1.3,.3M622,723.9l-.9,.6M641.9,718.2l.4,.2M625.2,721.4l-.9,.6M645.8,718.8l.8,.3M639.7,712.1l.8,-.5M623.5,726.5l-.7,.7M638.7,702.5l.3,-1M641.4,721.9l.8,.8M647.5,713.2l.7,-.1M624.3,718.9l-.7,.2M640.2,703.5l.3,-.7M643.3,701.5l.5,-.9M624.8,726.2l-.7,.8M623.5,710.9l-1.4,-.5M635,704.5l0,-1.4M644,723.4l.7,.6M650.3,711.3l1,-.2M636,701.5l.1,-1.3M631.1,720.1l-.6,.9M629.6,706.1l-.4,-.8M646.6,725.4l.8,.7M632.6,719.1l-.4,.7M644.2,709.7l.4,-.2M645.9,717.2l.4,.1M649.6,712.2l1,-.2M636.9,727.5l.1,.7M640.6,704.3l.4,-.8M632.6,726.3l-.1,.7M643.8,701.7l.4,-.6M639.9,702.2l.4,-1M635.8,730.1l.1,1M640.2,723.8l.4,.7M637.8,721.5l.6,1.3M639.7,720.5l.3,.3M647.1,722.2l.5,.3M622.9,724.1l-1.1,.8M630.6,726.6l-.2,.5M640.5,717.4l.4,.2M637.4,725.1l.3,1M627.7,716.6l-.8,.2M636,708.8l.2,-1.1M640.2,716l1.2,.2M646.9,711.2l1.4,-.4M633.9,707.8l0,-.4M647.6,716.4l1.3,.1M648,713.4l.7,-.1M645.8,724.7l.6,.5M638.3,709.7l.6,-.8M643.3,706.8l1,-1M621.8,708.8l-.7,-.3M640.6,718.8l.7,.5M626.5,702.6l-.8,-1.2M629.2,707.2l-.8,-1.2M636.1,723.3l.2,1.4M647.4,722.6l.5,.3M625.8,712.9l-.6,-.2M624.8,717.9l-.6,.2M629,723.5l-.7,1M634,727.1l0,.6M638,709.1l.3,-.4M631.4,725.1l-.3,.8M629.2,701.2l-.1,-.4M637.5,705.4l.2,-.5M633.7,723.3l-.1,.7M620.1,713.4l-.9,-.1M631.3,726.9l-.3,1M632.8,718.9l-.6,1.3M643,707.8l1,-.9M633.1,699l-.1,-1.5M642.1,724.1l.7,.9M637.4,729.2l.2,1M644.3,707.8l1.2,-.9M646,710.1l.9,-.4M634.4,723.6l0,.4M648.3,719.5l.7,.2M630.5,730.3l-.2,.9M636.1,718.2l.6,1.3M643.5,717.7l.6,.2M624.8,724l-.9,.8M630.9,727.6l-.4,1.2M632.6,713.8l-1.3,-.7M626.5,703.4l-.8,-1.2M645.3,708l.4,-.3M642.1,715.3l1.3,.1M636.6,699.8l.1,-.4M634.6,717.2l0,1.4" stroke-width="0.9"/></g>
<g fill="none" stroke="#000" stroke-linecap="round"><path d="M351.9,1003.2Q351.2,1005.1 348.2,1006.6M351.5,1000.2Q351.4,1003.7 352,1007.3M350.1,1001.6Q349.8,1004.4 350.1,1007.2M348.4,1003.5Q347.7,1004.7 345.3,1005.4M346,1001.6Q345.2,1003.5 344.4,1005.4M344.6,1001.9Q343.7,1003.5 342.6,1004.9M342.9,1000.7Q341.8,1002.1 340.2,1003.2M342.9,999.8Q341.5,1002.1 339.9,1004.4M342,997.7Q340.3,999.8 338.4,1001.8M340,999.1Q339.1,1000.7 339.3,1003.1M338.5,997Q337.1,998.5 335.9,1000.3M336.6,996.3Q336.1,997.2 336.5,998.9M334.9,995.5Q334.4,995.9 333.9,996.4M336.3,993Q334.6,994.1 333.2,995.7M334.8,992.4Q333.6,993.1 332.4,994.2M336.1,989.6Q333.3,990.3 330.3,990.4M335.1,989.1Q332.6,990.1 330.3,991.9M334,988Q331.9,988.8 330.2,990.8M334,986.2Q331.5,986.6 329,987.2M334.5,983.9Q332.2,983.8 329.9,983.3M333.5,982.3Q331.8,982.5 330.1,983.8M334.6,981.5Q331.8,980.8 329.3,979.2M334.4,980.5Q331.8,979.9 329.3,978.9M334.7,978Q333,977.7 331.1,977.9M335.5,976.7Q333.5,976 331.3,975.5M335.3,975.6Q333,974.9 330.2,975.1M333.9,973.9Q332.8,972.8 332.6,970.5M335.1,971.7Q333.8,971.2 332,971.3M336.8,970.2Q335.7,969.3 334.7,968.4M338.8,970.9Q337.2,969.9 334.8,969.9M340.4,969.6Q338.3,968 335.3,967.3M341,967.1Q340.1,965.3 340.3,962.9M342.5,966.6Q342.1,965.5 342.3,964M343.5,967.3Q342.3,965.2 341.1,963.1M344.1,964.2Q343.5,963.2 342.5,962.5M345.5,963.9Q345.4,962.8 346,961.4M348,965.9Q347.6,963.4 348.1,960.7M348.7,963.3Q348.6,961.5 349.4,959.6M351.6,966Q351.7,963 352.9,960M351.9,964.9Q351.8,962.9 351.7,960.8M353.9,964.2Q353.6,961.9 351.8,959.7M354.8,965.6Q354.7,963.4 353.3,961.1M358.3,963.3Q358.4,962.6 358.6,961.9M358.2,965.5Q358.9,963.6 360,961.7M360,966.2Q360.6,964.4 360.8,962.4M360.9,966Q361.8,964 362.6,961.9M361.3,968.4Q362.9,966 365,964M363.3,969.7Q365.5,967.2 368.7,965.5M363.8,970.5Q366.1,968.3 369.5,967.3" stroke-width="1.1"/><path d="M366.9,983.4Q371.4,984 375.7,987.6M365.3,984.8Q370.1,986.1 374,991M365.6,985.5Q371.3,986.9 376.2,991.2M365.8,987.2Q370.7,989 375,992.4M366.6,988.4Q370.5,990.6 372.8,996.1M364.2,988.6Q369.2,991.6 372.5,997.4M363.8,989.1Q368.9,992.4 372.4,998M365.2,991.6Q368.5,995 368.9,1001.4M364.6,992.2Q367.6,995.6 367.6,1001.8M362.3,992.4Q365.6,996 367.7,1000.8M362.3,994Q365.2,997.9 366.6,1003M361.8,994.4Q364.3,998.3 364.4,1003.7M361.9,996.6Q363.5,1000.4 361.6,1005.8M360.9,998.1Q362.4,1001.4 363,1005.2M359.8,998.9Q360.9,1002.6 359.8,1007M358.1,997.5Q359.3,1002 358.4,1007.2M357.4,997.4Q358.1,1002.3 355.5,1007.7M357.2,1000.3Q357.8,1003.3 358,1006.3M355.6,1001Q356.2,1004.3 356.8,1007.6M353.7,999.4Q353.8,1003.5 353.2,1007.6M365.3,970.9Q367.3,969 369.5,967.3M366,972.4Q368.1,970.9 370.9,970.3M366.9,973.2Q369.8,971.4 373.4,970.6M367.3,975.4Q370.2,974.2 373.8,974.4M367.4,975.6Q370.9,974.6 375.5,976.4M367.3,978Q371.4,977 376.2,978.3M367.1,978.5Q370.6,977.5 374.3,977.5M365.7,980.9Q370.3,980.1 375.2,980.4M366,982Q370.6,982.2 375.2,985.9M367.9,982Q372.3,982.5 376.5,986.5" stroke-width="1.0"/><path d="M367.1,979.3l.4,-.1M363.2,987.9l1.2,.5M353.3,992l.1,1.1M353.2,971.5l0,-.8M345.5,993.9l-.6,.8M365.2,981.6l.6,-.1M358.9,979.2l1,-.7M365,976.7l1,-.6M356.8,993l.4,1M349.2,992.3l-.6,1.3M348.2,999.4l-.4,1.3M344.2,978.6l-.4,-.2M340.9,985.3l-.8,.1M345.4,999.1l-.7,1.3M337.9,985.6l-1.3,.2M359.2,970.6l.5,-1.1M360.6,974l.9,-1.1M343.8,985.6l-1.2,.2M353.3,992.2l0,.6M352.3,1001.8l0,.9M352.1,978l-.2,-1.3M349.9,994.9l-.3,1.1M364.2,984.2l.9,0M341.8,992.8l-.5,.4M348.4,999.1l-.4,1.2M346.2,971.1l-.4,-.8M360,992.4l.7,.8M338.1,978.4l-.7,-.3M355.2,988.3l.5,1.1M336.7,979.2l-.7,-.2M339.4,995.9l-.7,.6M353.2,1000.8l0,.8M342.1,998l-.4,.6M351.7,975.4l-.1,-.8M346.6,979.6l-.5,-.3M338.4,981.2l-.7,-.1M367.6,971.7l.8,-.6M370,984l.9,0M339.8,981.7l-1,-.1M366.3,986.9l.9,.2M364.3,996.8l.3,.3M346.9,991l-.6,.8M369.4,976.2l1.1,-.5M346.5,984.3l-.5,0M355.3,991.1l.4,1.1M350.7,972.1l-.2,-1M345.3,978.4l-.5,-.4M354.4,976.5l.1,-.6M354.9,991.5l.1,.6M359.3,984.8l.9,.2M355.6,984.8l.8,.3M351.6,979.5l-.2,-.8M371.8,986.9l.5,.1M349,989.3l-.7,1M350.2,1000.8l-.2,1.4M349.9,993l-.4,1.2M345,975.4l-.8,-.8M367.6,980.8l.4,-.1M359.7,988l.4,.2M342.4,968.4l-.8,-1.2M356.3,982.4l1,-.4M358.4,981.8l1.3,-.4M362,991.7l.9,.8M360.2,980.2l1.1,-.5M344.7,993.2l-.8,1M342.9,984.9l-1.2,.1M340,973.6l-.7,-.6M362.2,997.2l.5,.8M353.8,967.7l0,-.7M351.7,972.5l-.1,-.5M337.5,995l-.8,.6M357.2,987.2l.5,.4M360.2,986l1,.3M355.6,998.1l.2,1.2M356,991.3l.5,1.2M358.7,1001.2l.3,.9M355.9,1001.2l.2,1.1M354.2,965.5l.1,-1.1M338.3,973.9l-.8,-.6M336.7,987.4l-.8,.2M347.7,984.2l-1.2,.1M346.4,994.7l-.3,.6M362.4,999.9l.7,1.2M368.5,972.8l1,-.7M348,1001.9l-.1,.5M351.1,973.3l-.2,-1.1M369.2,987.9l.8,.2M351.4,989.8l-.2,.8M359.6,987.3l1,.5M372,980.8l.8,-.1M358.7,992.9l.5,.8M356.6,973.7l.5,-1.2M360,984.1l1,.1M355.1,987.5l.6,1.1M356.5,983.2l.4,-.1M342.6,988.4l-.9,.4M361.9,989.8l1.1,.7M344.2,988.6l-.8,.4M356.4,974.7l.4,-1.2M343.1,980.4l-.4,-.1M358.8,969.8l.4,-.9M356.9,991l.7,1.3M341,980.1l-.9,-.3M359,992.8l.5,.7M350.3,981.5l-.8,-.7M358.2,980.4l.7,-.4M363.2,979.9l.7,-.2M361.1,988.2l.4,.2M340.9,970.8l-.5,-.5M357.9,982.5l.9,-.2M351.3,998l-.1,.7M361.4,1001.2l.5,1M341.1,981.1l-.8,-.2M363.2,982.9l.6,0M372.2,983.3l.8,0M365.8,979.6l.7,-.2M364.3,985.2l1.2,.2M357.2,977l.3,-.5M371.1,990l1.3,.4M336,981l-1,-.2M345.9,986.4l-.7,.3M341,983.2l-.8,0M364.4,970.1l1,-1.1M352.1,990.5l-.1,1.2M344.4,996.9l-.8,1.2M340,987.6l-1.3,.4M367,982.5l1.1,-.1M364.4,989.1l1.1,.5M369.7,990.3l1.4,.5M346.9,990.4l-.9,1M346,991.9l-.5,.6M346.5,979.9l-.7,-.4M347.4,978.9l-.6,-.5M352.2,987l-.3,1.4M362.7,967.8l.6,-1M366.2,996.3l.7,.6M361,977.1l1,-.8M348.3,980.4l-.6,-.5M370.7,984.5l.7,0M342.2,992.7l-.8,.7M346,972.8l-.8,-1.2M350.9,978.4l-.4,-1.1M357.9,983.4l.9,0M346.7,994.7l-.7,1.2M356.5,995.4l.3,1.1M371.5,986.8l1,.2M361,988.5l1.2,.7M345.4,971.7l-.4,-.6M358.6,979.5l.9,-.6M363.4,970.6l.3,-.4M343,988.2l-1.2,.6M366.5,996.4l.5,.4M354.4,987.2l.3,.8M363.5,969.4l.5,-.7M346.6,989l-.5,.4M349,973l-.2,-.6M339.2,988.9l-1.1,.4M356.3,999.3l.1,.6M353,971.5l0,-1.1M343.9,974.4l-.9,-.9M361.6,973.2l.4,-.5M365.9,974.1l1,-.8M344.1,997.9l-.3,.4M335.2,980.5l-1,-.2M361.4,973.8l.7,-.8M356.8,975.8l.6,-1.1M361.6,969.2l.2,-.4M345.6,968.6l-.4,-.8M341.7,979.1l-.9,-.4M345.9,998.7l-.4,.8M357,995.5l.2,.5M365.6,988.3l.9,.3M356,989.1l.7,1.2M362.4,973.4l.3,-.3M367,996.5l.7,.6M351.4,1002.8l-.1,1M344.2,983.1l-1.5,-.1M366.2,993.2l.5,.4M334.3,988.8l-1.2,.3M361,997.4l.5,.8M336.7,983.3l-1.3,0M352.2,998.1l0,.8M360.6,986l.6,.2M362.5,970.1l.3,-.4M361.4,995.3l.6,.9M356.7,989.8l.7,1.2M354,985l.8,1M363.2,983.8l.6,0M366.6,986.6l1.4,.3M366.9,994.1l1,.8M337.9,989.1l-.6,.2M336.2,988.8l-.6,.2M347.7,986.7l-.9,.5M338.4,979.4l-.4,-.1M364.1,985.6l1,.2M351.3,1000.6l-.1,1.1M351.6,969.7l-.1,-.7M368.9,990.4l.5,.2M366.2,977.1l.8,-.4M366.6,997.6l.6,.6M359.7,983.7l.9,0M353.2,1002.4l0,.4M365.5,970.1l.8,-.8M348.4,996.3l-.2,.7M363.3,995.1l1,1.1M371.3,988.9l.5,.1M337.4,982.9l-1.1,-.1M333.8,982.2l-.5,0M344.5,966.9l-.5,-1.1M341.6,979.2l-1,-.4M363.5,985.6l.7,.1M343.2,985.4l-1.1,.2M352.1,964.6l0,-.6M350.5,987.7l-.5,.9M345.6,977.5l-.4,-.3" stroke-width="0.9"/></g>
<g><circle cx="727.8" cy="740.5" r="29.2" fill="url(#pDot)"/><path d="M763.9,740.5L763.8,743.7L761.8,746.5L760.1,749.2L760.3,752.3L760.1,755.6L758.5,758.2L757,761L755.8,764L753.2,765.9L749.7,766.6L747.1,768.1L745.3,770.8L742.7,772.5L739.8,773.5L737.1,775.4L734.2,776.8L730.9,775.9L727.8,774.4L724.8,774.6L721.7,775L718.8,774.1L715.8,773.5L712.3,773.7L709.4,772.3L707.7,769.2L705.9,766.6L703.3,765L701.2,762.9L699.6,760.2L697.1,758.2L694.3,756.1L693.6,752.9L694.3,749.5L693.8,746.5L693.1,743.5L693.5,740.5L693.6,737.5L692.4,734.3L692.1,730.9L694.1,728.2L696.3,725.8L697.5,723L699.3,720.6L701.9,718.7L703.4,716.1L704.4,712.6L706.7,710.4L710.1,709.8L713,708.7L715.7,707.3L718.9,707.3L722,707.4L724.8,705.7L727.8,703.9L731,704.4L733.9,705.6L737,706.1L739.9,707.3L742.1,709.8L744.6,711.3L748.1,711.5L751.2,712.6L753.1,715.2L755.1,717.6L757.3,719.8L758.1,723L758.1,726.3L759.8,728.8L762.3,731.3L763.2,734.3L763.2,737.4ZM754.8,740.5A27,27 0 1 0 700.8,740.5A27,27 0 1 0 754.8,740.5Z" fill="url(#pRim)" fill-rule="evenodd" stroke="none"/><path d="M697.9,724.2l.6,-1.5M749.4,766.1l-.5,2.2M693.8,740l.9,-1.8M717.6,774.3l-2.2,-.9M722.5,774.6l-1.9,1.1M703.1,716.1l1.3,-1.9M728,703.5l1.6,-1.5M761.8,730.3l.7,1.8M723.3,774.2l-1.4,-1.4M752.7,715.8l1.7,1.3M749.2,766.6l-1.1,1M728.4,703.7l2.1,-.3M762.3,735.4l-.9,1.2M694.9,755.7l-1.7,-.8M754.6,765.3l-2.2,.3M743.3,771.5l-1.8,-.2M763.1,739.1l-.1,1.7M757.8,759l-.9,1.4M763.7,738.7l.6,1M757,759.1l.1,1.3M734.2,706.2l1.7,-.1M694.2,752.1l-.6,-1.8M718.6,773.9l-1.4,.4M710.4,772.6l-1.8,-.3M715.1,707.6l.7,-1M740.7,772.4l-2.2,-.2M741.2,773.4l-1.9,-.4M696.3,726.5l.9,-1.2M707.4,768.7l-2.2,-.5M713.2,772.9l-1.3,-.9M696.9,758.1l-1.2,-.8M711.2,708.9l.6,-1.2M753.4,765l-.1,1.9M694.3,738.8l-.3,-1.7M708.9,772.1l-1.6,.2M695.1,748.8l-.5,-1.3M716,708.2l.9,-1M759.3,757l-.1,2.2M694.2,741.6l-.7,-2.3M736.5,705.5l1.3,-.4M752.1,766.3l-1.3,.2M758.3,758.3l-.3,1.6M695.7,758.1l-1.7,-1.3M739.3,773.7l-1.2,.4M759.9,728.8l.5,2.3M704.3,715.8l.8,-1.2M763.9,737.9l-.6,2.1M694.1,741.9l1.4,-1.6M758.3,723l1.2,1.5M756.7,763.8l-1.4,.5M700.5,720.5l.9,-1.7M716.5,773.3l-1.2,-1.9M734.6,705.3l1.9,-.3M701,718.7l-.1,-2.1M706.1,710.9l1.5,-1.2M737,706.4l1.4,.9M758,721.8l-.1,1.6M754.6,717.4l-.1,2.2M754.8,764.9l-.8,1.2M717.8,772.8l-.7,-1.2M754.5,716.6l1.4,.8M745.2,711.7l1.7,0M702.9,719.1l1.1,-.9M692.1,730.1l1,-1.1M740,707.9l1.8,.4M704.9,765.7l-.3,-2.1M711.7,772.6l-.8,-.9M694.2,728.2l1.8,-1M735.9,706l1.7,.3M761.9,732.6l-.1,1.4M693.9,754.8l-1.1,-.7M704.7,711l.4,-1.4M693.8,728.8l-.4,-2M703,718l1.2,-1.1M708.6,770.1l-2.2,.1M761.4,746.8l-1,1.6M743.2,772.2l-1.8,.1M703.8,716.4l1.1,-2.1M699,759.9l-.1,-1.2M763.2,735.7l1.1,1.5" fill="none" stroke="#000" stroke-width="0.8" stroke-linecap="round"/><path d="M728.2,743.1L732.6,741.4L736.6,739.3L740.2,736.6L743.5,733.5L746.5,729.8L749.3,725.7L751.8,720.9L750.9,720.5L748.4,725.1L745.6,729.1L742.4,732.3L738.9,734.9L735.3,736.6L731.4,737.6L727.4,737.9ZM728.5,743.4L732.1,742L735.9,741.2L739.9,741L743.9,741.5L748,742.5L752.1,744.2L756.2,746.4L756.7,745.5L752.6,743.2L748.5,741.3L744.3,739.8L740.2,738.7L736,737.9L731.6,737.5L727.1,737.6ZM726.8,743.3L730.6,744.2L734.2,745.6L737.7,747.5L740.9,750L743.8,753L746.5,756.5L748.8,760.5L749.7,760L747.4,755.9L744.8,752.2L742.1,748.8L739.2,745.7L736,742.8L732.6,740.1L728.8,737.7ZM725.4,741.3L727.1,744.8L728.3,748.6L729.2,752.4L729.8,756.4L729.9,760.4L729.7,764.5L729.2,768.7L730.2,768.9L730.8,764.6L731.2,760.4L731.3,756.3L731.3,752.2L731.1,748.1L730.8,743.9L730.2,739.7ZM725.9,737.4L722.8,740.7L720,744L717.5,747.5L715.2,751L713.2,754.8L711.3,758.8L709.6,763L710.5,763.3L712.3,759.2L714.3,755.5L716.8,752.1L719.6,749.2L722.7,746.8L726.1,744.9L729.7,743.6ZM728.4,737L723.6,737.3L719,737.9L714.5,738.9L710.1,740.1L705.7,741.6L701.3,743.5L697,745.7L697.4,746.6L701.8,744.5L706.1,742.9L710.5,741.9L714.9,741.6L719.1,741.8L723.2,742.6L727.2,744ZM728.5,736.9L724.4,736.8L720.2,736.1L716.2,734.8L712.3,732.9L708.6,730.5L705,727.5L701.7,724.1L701,724.7L704.3,728.3L707.7,731.5L711.2,734.5L714.9,737.2L718.7,739.7L722.7,742L727.1,744.1ZM730.8,740.5L729.8,736L728.6,731.8L727.1,727.7L725.3,723.7L723.3,719.8L720.9,715.9L718.2,712.1L717.4,712.7L720,716.5L722.1,720.3L723.7,724.3L724.8,728.4L725.4,732.4L725.3,736.5L724.8,740.5ZM730.4,743L732.6,739L734.2,735L735.5,730.9L736.3,726.8L736.8,722.5L736.9,718L736.6,713.2L735.6,713.3L735.8,717.9L735.4,722.3L734.4,726.3L732.9,730L730.8,733.1L728.2,735.8L725.2,738Z" fill="#000" stroke="none"/><path d="M740.7,734.9Q744.8,724.9 747.9,717.6M738.1,739.7Q749.4,737.9 757.9,737.6M736.2,739.6Q746.6,747.3 755.6,753.3M739.3,747.4Q745.5,751.1 753.9,754.6M735.8,744.6Q741.6,754.7 742.5,764.2M730.5,755.5Q731.6,763.2 737.5,768.7M730.4,753.4Q726.7,761 721.8,769.4M719.7,747.1Q718.5,754.9 715.1,765.7M716.7,750.6Q712.2,753.4 707,758.1M716.7,740Q707.4,745.1 700.1,750.7M712.2,740.6Q703.6,738.6 699.2,737.7M719.2,737.8Q710.8,735.3 702.3,730.7M715.8,736.2Q711.9,726.6 707.2,718.9M725.9,727.8Q718.1,719.2 713,714.1M726.6,730.3Q727.2,720.4 723.2,711.9M732.9,733.3Q732,721 728.9,710.5M732.4,734.4Q734.8,725.9 741.9,716.5" fill="none" stroke="#000" stroke-width="0.8" stroke-linecap="round"/><circle cx="727.8" cy="740.5" r="3.1" fill="#000"/></g>
<g><circle cx="746" cy="839.3" r="29" fill="url(#pDot)"/><path d="M780,839.3L779.6,842.2L780.7,845.4L781.3,848.8L779.7,851.6L777.9,854.2L776.8,857.1L774.8,859.5L771.7,860.9L769.7,863L768.5,866.1L766.4,868.5L763.6,869.8L761.1,871.7L758.5,873.7L755.2,873.6L751.9,872.6L749,873.1L746,874L743,873.6L740,873.2L736.7,874.1L733.4,873.9L730.9,871.6L728.7,869.3L726,867.9L723.8,865.8L722.3,863L720,861.1L716.7,859.8L714.6,857.4L713.9,854.3L712.5,851.5L711.3,848.6L711.8,845.3L712.8,842.2L712,839.3L711,836.2L711.5,833.2L712.1,830.2L711.9,826.9L712.9,823.8L715.8,821.8L718.2,819.8L719.6,817.1L721.6,814.9L724.2,813.3L726.1,810.8L727.8,807.7L730.6,806.3L734,806.2L736.9,805.4L739.9,804.6L743,805.3L746,806L749,805L752.2,804L755.2,804.8L758.1,806L761.3,806.5L764,808.2L765.6,811.3L767.5,813.7L770.4,814.9L772.8,816.8L774.3,819.5L776.7,821.6L779.3,823.8L780,826.9L779.4,830.4L779.8,833.3L780.6,836.3ZM772.9,839.3A26.9,26.9 0 1 0 719.1,839.3A26.9,26.9 0 1 0 772.9,839.3Z" fill="url(#pRim)" fill-rule="evenodd" stroke="none"/><path d="M721.5,816l1.8,-.3M769.4,864.6l-2.1,-.1M722.6,813.8l.2,-2M744.7,806.4l1.6,.1M711.7,845.6l.6,-2.2M780.3,842.7l-.8,1M712.8,850.5l-1.2,-1.8M712.1,825.2l1.6,-1.1M780.9,847.7l-.1,1.2M739.7,804.3l1.8,1.1M731,805.8l1.5,.1M714.7,853.9l-1,-1.1M711.7,833.4l.9,-2.1M765.6,868.5l-2.3,.4M778.3,854.1l.4,2M780.8,848.3l.3,2M735.7,806.9l1.7,.3M728.6,869.5l-1.5,.1M728.8,868.4l-1.5,-.8M723.6,813l1.4,-1.7M712.3,833.2l.5,-1.3M776.8,821.7l.7,1.3M739.4,873.1l-1.4,-.9M751.9,872.5l-1.7,1.6M711.4,838.9l.6,-1.2M712.2,847.5l-1.7,-1.3M740,872.4l-2.1,-.7M754.3,805.3l1.2,1.9M717.2,860.2l-1.3,-.2M744,805.4l1.3,.5M713.5,822.9l1.1,-1.1M779.9,829.4l1.1,1.7M761.9,871.3l-.8,1.1M780.4,850.3l-.5,1.5M756.6,873l-1.5,.3M720.9,816.4l1.3,-2M775.6,820.2l.2,2.2M726.3,810.7l.4,-1.8M720.1,817.3l.7,-1.7M713.6,824l-.5,-2.1M766.6,812l2.4,.3M731.4,871.7l-2.4,-.3M712.8,841.5l.1,-1.3M738.5,804.8l1.7,.8M712.9,839.8l1.4,-1.9M765.5,811.3l1.6,1.3M770.2,863.1l-.9,1.3M766.5,869l-1.5,1.6M711.4,836.5l1.3,-1.6M724.5,866l-2.1,0M781.5,848.1l-1.2,1M745.1,874.1l-1.3,.1M737.4,805.6l1.6,.2M736.2,874.2l-2,-1.3M779.6,842.7l-.2,2.1M720.3,816.1l1.3,-.6M720.1,815.7l1.7,-.3M741.8,804.6l1.8,-.1M711.8,846.9l-.1,-1.3M776.6,822.2l1.5,.4M746.2,805.8l1.8,1.4M779.9,833l.5,1.5M752.8,871.9l-1.6,1M759.9,807.2l1.5,-.6M719.4,817.4l.2,-1.4M754,804.3l1.9,.3M719.9,860.4l-1.6,-.2M766,867.9l-.4,2M780,844.5l.5,1.1M765.9,813.2l1.8,1.4M775.1,858.4l-1.2,1.1M727.6,807.5l1.5,-.4M746.6,806.8l2,-1.1M711.9,839.7l-.5,-1.4M756.1,874.4l-1.3,-.5M766.9,866.9l-1.5,.2M726.7,809l.9,-2M717.2,821l.4,-1.4M725.6,866.5l-1.2,-1" fill="none" stroke="#000" stroke-width="0.8" stroke-linecap="round"/><path d="M743,840L744.9,844.1L747,847.9L749.3,851.6L751.8,855.1L754.4,858.6L757.3,861.9L760.4,865.2L761.1,864.5L758.1,861.2L755.5,857.8L753.2,854.2L751.5,850.5L750.2,846.6L749.4,842.6L749,838.6ZM743.1,837.3L741.6,841.7L740.6,846L740.2,850.3L740.2,854.7L740.6,859.1L741.5,863.7L742.8,868.5L743.8,868.2L742.5,863.5L741.9,859L742,854.7L742.8,850.8L744.2,847.2L746.3,844L748.9,841.3ZM743.6,838.4L742.8,842.2L741.5,845.8L739.7,849.2L737.6,852.5L735.1,855.6L732.2,858.5L729,861.2L729.6,862L732.9,859.3L736,856.4L738.8,853.5L741.5,850.4L744,847.2L746.3,843.8L748.4,840.2ZM744.1,837.5L741.6,840.7L738.5,843.5L735,845.8L731.1,847.7L726.8,849L722.2,849.8L717.3,850.1L717.3,851.1L722.3,850.9L727.1,850.2L731.6,849.2L735.9,847.8L740,846L744,843.8L747.9,841.1ZM747.9,837.4L744.1,835L740.2,833.2L736.2,832L732,831.2L727.6,830.9L722.9,831.1L717.9,831.8L718.1,832.8L723,832.2L727.5,832.2L731.7,832.8L735.5,834.1L738.8,835.9L741.7,838.3L744.1,841.2ZM749.6,838.8L747.9,834.8L746,831L743.8,827.5L741.5,824.1L738.9,820.9L736,817.7L732.8,814.6L732.1,815.4L735.2,818.5L737.8,821.7L739.9,825.1L741.4,828.7L742.3,832.4L742.7,836.1L742.4,839.8ZM748.5,838.1L746.4,834.9L745,831.3L744.2,827.5L744.1,823.5L744.7,819.2L746,814.9L747.9,810.4L747,809.9L745,814.5L743.5,818.9L742.5,823.3L742,827.6L742,831.8L742.5,836.1L743.5,840.5ZM748.4,839.7L748.7,835.9L749.5,832.2L750.8,828.6L752.7,825.2L755.1,821.9L757.9,818.8L761.2,815.9L760.6,815.1L757.2,818L754.1,821.1L751.4,824.3L749,827.6L746.9,831.2L745.1,834.9L743.6,838.9ZM745.6,841.8L749.8,841.7L753.9,841.1L757.9,840.2L761.8,838.9L765.6,837.1L769.4,835L773.3,832.4L772.7,831.6L768.9,834.1L765.1,836L761.3,837.4L757.5,838.1L753.7,838.3L750,837.8L746.4,836.8ZM743.7,842.1L748.2,844.1L752.6,845.7L757.1,846.8L761.6,847.5L766.3,847.9L771.2,847.8L776.3,847.4L776.2,846.4L771.2,846.8L766.4,846.5L762,845.7L757.9,844.2L754.2,842.2L751,839.6L748.3,836.5Z" fill="#000" stroke="none"/><path d="M751.6,853.3Q757.4,856.8 765.8,860.8M741.2,852.4Q743.7,858.6 749,867.8M741.5,850.4Q740.6,859.7 738.3,865.6M740.7,849.7Q732.7,854.1 723.5,855.9M732.6,848Q729.9,853.9 722.6,855.6M738.2,845.4Q729.5,841.4 717.8,842.2M734.4,832.6Q725.5,834.2 716.8,838.5M738.8,834.2Q728.3,832.1 721.8,825.9M741.2,825.4Q736,822 726.2,818.7M744.3,832.1Q739.8,822.7 737.3,812.3M743.3,830.5Q744.3,823.3 741.7,811.4M743.1,827.1Q746.6,818.3 754.8,810.1M750.1,827.8Q751.5,821.9 753.6,811.2M753.3,839.7Q760.5,832.5 772,823.9M757.6,839.2Q766.1,839.9 775.2,839.5M758.5,845.8Q765.2,842.8 774.5,839.1M754.5,844.4Q762.1,849.3 772.5,852.9" fill="none" stroke="#000" stroke-width="0.8" stroke-linecap="round"/><circle cx="746" cy="839.3" r="3.1" fill="#000"/></g>
<g><circle cx="747.3" cy="938.3" r="29" fill="url(#pDot)"/><path d="M781.8,938.3L780.6,941.2L780.6,944.2L781,947.3L780.6,950.4L779.2,953.2L777.9,956L776.9,959L775,961.6L772.1,963.1L768.9,964L766.4,965.6L764.5,968.2L762.4,970.6L759.5,971.9L756.5,972.5L753.5,973.3L750.4,974.1L747.3,973.8L744.3,972.3L741.5,971L738.5,971.1L735.2,971.6L732,971.1L729.4,969.3L727.1,967.2L724.6,965.4L722.3,963.3L720.8,960.6L719.8,957.5L718.2,955.1L715.6,953.1L713.1,950.7L712.1,947.7L712.4,944.5L712.5,941.3L712.3,938.3L712.6,935.3L713.7,932.4L714.9,929.6L714.9,926.5L714.6,923.1L715.5,919.9L717.8,917.7L720.6,915.9L722.9,913.9L725,911.7L727.5,910L730.3,908.8L732.9,907.3L735.2,904.9L737.8,902.8L741,902.4L744.2,903.3L747.3,904.2L750.3,904.2L753.3,904.2L756.2,904.9L759.1,906L762.1,906.5L765.5,906.9L768.4,908.2L770.2,911L771.4,914.2L773.1,916.7L775.4,918.6L777.6,920.8L778.9,923.6L780.1,926.4L781.8,929L783.3,931.9L783.3,935.2ZM774.2,938.3A26.9,26.9 0 1 0 720.4,938.3A26.9,26.9 0 1 0 774.2,938.3Z" fill="url(#pRim)" fill-rule="evenodd" stroke="none"/><path d="M722.4,962.3l0,-1.7M752.2,904l1.7,.7M725,911.7l1,-.8M777.7,923l1.3,1.6M768.5,908.6l1.8,1.5M713.8,951.9l-.9,-1M779.5,951.5l-.5,2.1M767.6,907.7l1,1.7M747.6,972.8l-1.6,1.6M720.6,957.2l-.5,-1.7M739.3,970.8l-2,-.9M773.4,918l1.2,.6M769.2,909.2l.5,2M764.7,966.3l-2,.3M712.7,945l.6,-1.4M731.1,970.9l-2.2,-.2M779,951.9l-.4,1.7M769.9,963.8l-.8,2M724,965.5l-.6,-2.3M771.8,963.7l-.2,1.9M721.8,962.7l-1.4,-1.6M779.8,924.7l1.2,1.1M713.1,945.3l.2,-2M772.9,963.2l-.1,1.7M769,909l1.3,.4M776.5,920.5l1.3,1.6M715.4,925.5l1,-.9M731.7,970.7l-.5,-1.2M740.5,970.8l-2.1,.3M781.1,948.9l.6,1.5M781.3,938.5l.1,2.3M762.2,970.1l-1.2,.8M716.2,952.5l-1.5,-1.1M777,919.9l1.4,1.6M713.1,942.8l-1.1,-1.5M715.7,953.4l-1.3,-.8M727.1,967.9l-2.3,0M781.9,928.8l-.3,1.2M773.8,916.5l1.5,1.1M754.1,973.3l-1.7,1.1M781.5,947.6l-.7,1.1M776,961.7l-1.4,.5M755.3,905.5l1.2,.7M781.9,929.4l-1,2.1M712.5,935.4l-.9,-1.3M763.2,969l-.5,1.7M714.7,922.3l1.5,-1M773.5,917.7l2.3,.5M758.9,971.5l-2,1.2M722.8,914.1l1.2,-1M733.8,971.7l-1.2,-.8M781.2,927.1l1.5,1.7M783.5,930.8l.7,1.3M771.7,963.1l-.8,1.9M741.4,971.6l-1.6,-1.3M761,972.1l-1.8,-.1M715.6,922.5l.2,-1.6M717.3,954.6l.5,-2M712.9,950l.2,-1.4M742,902.1l1.6,-.6M718.5,955.1l0,-1.9M752.1,973.7l-2.2,.5M723.1,913.9l.7,-1.7M780.4,940.3l-.3,1.4M757,905.7l1.5,-.2M780.8,946.9l0,1.9M728.8,968.3l-1.4,-.3M743,971.6l-1.3,-1.3M712.3,942.3l.2,-1.4M770.1,964l-1.1,.8M739.3,902.6l2.1,.4M745.2,904.6l1.8,-.7M728.5,968.1l-.6,-2.3M749,974.1l-1.5,-1M723.3,964.3l-.6,-2.3M722,963.9l-1.6,-.4M771.7,963.3l-.2,1.5M714.6,931.2l-.8,-1.2M721.5,959.7l-1.1,-1.4" fill="none" stroke="#000" stroke-width="0.8" stroke-linecap="round"/><path d="M750.1,936.6L747.1,933.6L744,930.7L740.9,928.1L737.6,925.6L734.3,923.3L730.7,921.1L727,919L726.5,919.9L730.2,922L733.5,924.3L736.5,927L739.1,929.9L741.3,933L743.1,936.4L744.5,940ZM750.5,939.1L750.5,934.2L750,929.6L749.1,925.1L747.9,920.7L746.2,916.4L744,912L741.4,907.6L740.6,908.2L743.1,912.5L744.9,916.9L746.1,921.2L746.6,925.5L746.5,929.7L745.6,933.7L744.1,937.5ZM749.3,939.8L751.1,936L752.6,932.2L753.8,928.3L754.7,924.3L755.3,920.3L755.7,916.1L755.7,911.7L754.7,911.7L754.6,916L754.1,920.1L753.1,924L751.8,927.6L750,931L747.8,934L745.3,936.8ZM748.3,941.2L752.2,938.8L755.7,936.2L759,933.3L762,930.2L764.8,926.7L767.4,922.9L769.8,918.8L768.9,918.3L766.5,922.4L763.8,925.9L760.8,928.9L757.5,931.4L753.9,933.3L750.2,934.7L746.3,935.4ZM748.4,941L752,938.9L755.8,937.4L759.9,936.4L764.1,935.9L768.5,935.9L773,936.5L777.6,937.5L777.8,936.6L773.2,935.5L768.6,934.7L764.1,934.2L759.7,934.1L755.2,934.3L750.7,934.8L746.2,935.6ZM746.9,942L750.9,941.8L754.9,942.3L758.8,943.5L762.6,945.5L766.2,948.2L769.6,951.5L772.7,955.5L773.5,954.9L770.4,950.8L767.2,947.2L763.8,943.9L760.2,941.1L756.4,938.6L752.3,936.4L747.7,934.6ZM745.5,940L748.5,942.7L751.1,945.8L753.2,949.4L754.7,953.3L755.8,957.6L756.3,962.2L756.2,967.1L757.2,967.2L757.3,962.2L757,957.4L756.3,952.9L755.1,948.6L753.6,944.5L751.6,940.5L749.1,936.6ZM744.3,938.5L745.1,942.4L745.5,946.5L745.4,950.6L744.9,954.7L744,958.8L742.6,962.8L740.9,966.9L741.8,967.3L743.6,963.2L745.2,959.2L746.6,955.1L747.8,951L748.8,946.8L749.7,942.5L750.3,938.1ZM746.7,935.2L742.7,937.1L739.2,939.5L736.1,942.2L733.3,945.2L730.8,948.7L728.5,952.6L726.4,957L727.4,957.4L729.4,953.1L731.9,949.5L734.6,946.4L737.7,944.1L740.9,942.5L744.4,941.6L747.9,941.4ZM748.1,935.3L743.7,935.1L739.3,935.3L735.1,935.7L730.9,936.5L726.7,937.6L722.5,939.1L718.2,940.8L718.6,941.8L722.8,940L727,938.9L731.1,938.2L735.2,938.2L739.1,938.6L742.9,939.7L746.5,941.3Z" fill="#000" stroke="none"/><path d="M740.5,929.5Q733,924.6 722.6,922.4M737.9,927Q732.5,921.1 731.3,915.5M747.7,923.9Q740.4,919.6 735,911M748,926.3Q746.8,918.4 746.2,911.4M752.5,928.6Q749.3,921 751,908.7M751.2,931.7Q755.6,925.5 762.7,914.7M758,932.6Q760.7,924.5 763.2,912.5M760.2,930.7Q766,928.9 773.3,925.7M757.6,935.5Q769.7,936.3 777.1,932.5M758.5,935.4Q767.8,937.6 774.2,944.7M760.4,942.8Q767.1,946.7 774.9,946.9M752.9,946.3Q758.6,954.1 762.1,964.3M755,951.4Q751.3,957.4 749.2,968.2M746.8,949.4Q746.6,958.2 747,966.2M747.2,945.9Q739.5,957.2 736.2,964.9M739.7,941.2Q735.1,951.9 729.1,962.4M737.7,942.5Q728.1,948 723.3,952.9M734.3,937Q725.8,939 720.1,945.5M735.7,936.9Q727.7,937.4 718.8,936.1" fill="none" stroke="#000" stroke-width="0.8" stroke-linecap="round"/><circle cx="747.3" cy="938.3" r="3.1" fill="#000"/></g>
<g><circle cx="726.7" cy="1042.7" r="35.6" fill="url(#pDot)"/><path d="M770.2,1042.7L770.7,1046.5L769.5,1050.3L768.5,1053.9L767.5,1057.6L765.2,1060.6L762.3,1063.3L760.9,1066.6L760.4,1071L758.6,1074.6L754.8,1076.2L750.9,1077.2L747.7,1079.2L744.7,1081.2L741.1,1082.4L737.7,1083.7L734.3,1086.1L730.6,1087.5L726.7,1086.2L723.1,1083.8L719.6,1083.2L715.6,1084L711.7,1083.8L708.3,1082.1L704.9,1080.4L701.5,1078.7L699,1075.7L697.5,1071.9L695.2,1069.1L691.4,1067.4L687.9,1065.1L686.7,1061.4L686.5,1057.3L685.7,1053.7L684.8,1050.1L684.9,1046.4L684.9,1042.7L683.5,1038.9L682.3,1034.9L683.9,1031.2L687.2,1028.3L689.4,1025.3L690.1,1021.6L691.3,1017.9L693.7,1015L696,1012L698.2,1008.8L701.6,1006.8L705.8,1006.5L709.5,1005.8L712.3,1003L715.2,1000L719,999L722.9,999.6L726.7,999.8L730.4,999.9L734,1001.3L737.4,1002.8L741.3,1002.7L745.6,1002.2L749.1,1003.8L751.3,1007.5L753.4,1010.9L756.4,1013L759.4,1015.2L761.7,1018.2L764,1021.2L766.9,1024L768.5,1027.5L767.8,1031.7L766.9,1035.6L768.1,1039.1ZM759.6,1042.7A32.9,32.9 0 1 0 693.8,1042.7A32.9,32.9 0 1 0 759.6,1042.7Z" fill="url(#pRim)" fill-rule="evenodd" stroke="none"/><path d="M688.3,1025.7l-.2,-1.8M691,1022.4l1.1,-1.8M769.6,1051.5l-.7,1.2M716.5,1082.7l-1.5,-.7M714.9,1001.7l1,-.9M737.6,1083l-.9,1.2M716.3,999.6l1.7,.8M726.9,1086.8l-1,-.7M720.9,1083.8l-2.3,.5M696.9,1009.8l1.2,-.5M767.5,1036.3l1.5,1.8M753.7,1075.5l-1.9,.9M699.3,1009.1l.6,-2.3M697.9,1071.4l-1.4,-1.8M767.8,1023.9l.5,2M769.8,1043.3l.7,1.2M710,1005.4l1.1,-.5M684,1033.2l1.2,-.8M711.4,1005.2l1.5,-1M684.9,1042.7l.3,-1.2M685.8,1046.5l-.1,-2M684.2,1042.4l-1.5,-1.7M686.2,1051.2l.6,-2.2M687.4,1060.4l.5,-2M760.2,1016.3l.1,1.8M762.2,1063.7l0,2.1M744.6,1001.7l1.6,1.2M757.8,1013.1l1.5,.6M738.9,1003.6l2,.9M734.8,1086.7l-1.2,.7M707.9,1007l2,-.9M750.2,1077.6l-2.2,.3M701.7,1006.7l1.6,-1.4M741.1,1083l-1.1,.9M722.6,1083.4l-1.3,.1M705.9,1006.7l1.7,-.5M699.4,1074.7l-.2,-2.2M703.6,1078.9l-1.3,-1.1M771.1,1048.3l-.2,2.1M714.4,1000.2l1.5,.1M732.5,1001.7l1.5,-.3M692.6,1068.2l-1.5,-1.7M761.5,1017.7l.7,2M730.2,1087.7l-2.1,-1.2M686,1044.4l-1,-1.3M706.2,1007l1.3,.2M686.9,1053.7l.3,-1.9M709.6,1082.6l-1.7,0M684.9,1045.4l.2,-1.2M758.8,1016l2.1,.6M752.8,1076.6l-1.3,.6M762.4,1062.2l-1.8,.7M711.3,1083.2l-2.1,-.5M737.9,1083.1l-2,1M751.3,1008.3l1.5,.6M727.2,999.5l1.4,-.3M735.8,1084.8l-1.5,.7M745.9,1002.7l2.4,.3M768.4,1025l.7,1.8M690,1018.7l-.4,-2.2M738.9,1002.6l1.2,1.5M702.4,1007.8l1.1,-.8M730.3,999.2l1.4,-.7M767.3,1024l1.6,1.2M685,1039.8l1,-1M717.5,1082.7l-1.7,-.7M764.7,1061.8l.1,2.3M755,1012l2.3,.7M752,1011l1,1.2M751.1,1076.2l-.5,2.1M770.2,1043.2l-.4,1.6M686.1,1058.3l-.5,-2.1M770.9,1046l-.1,1.5M761.1,1063.5l-1.3,1.7M743.1,1081.6l-2.1,.5M726.6,1085.5l-1.8,-1.1M696.3,1011.7l2,-1.1M723.1,1000.2l1.7,1.4M761.9,1018.1l.7,2M766.8,1057.9l-.6,1.4M739.4,1003.4l1.9,-1M689.4,1027.4l.3,-2.3M689.5,1023.4l1.3,-1.1M709.4,1005.6l1.8,.4M737.1,1083.9l-1.7,-.6M717.9,998.6l1.3,.4M692.9,1015.3l.9,-2M741.5,1003.3l1.2,.6M768.8,1030l-.4,2M752.2,1008.5l2.2,.8M769.1,1047.8l-.8,1.6M767.4,1033.9l1.7,1.6M682,1034.8l-.6,-1.6M725.4,1000.9l1.7,1.2M698.2,1071.4l-1.4,-1.5M762,1065l-1.5,.9M765.7,1058.2l-1.1,1.2" fill="none" stroke="#000" stroke-width="0.8" stroke-linecap="round"/><path d="M723.7,1042.7L724.2,1047.7L724.1,1052.8L723.4,1057.9L722.2,1062.9L720.4,1067.9L718.1,1072.8L715.3,1077.6L716.1,1078.2L719,1073.3L721.6,1068.5L723.8,1063.5L725.8,1058.5L727.4,1053.4L728.7,1048.1L729.7,1042.7ZM726.7,1039.4L721.1,1040.7L715.9,1042.7L711,1045.2L706.5,1048.4L702.2,1052.2L698,1056.6L694.1,1061.7L694.9,1062.3L698.8,1057.3L703.1,1053.1L707.5,1049.8L712.2,1047.5L717,1046.1L721.8,1045.6L726.7,1046ZM728.7,1039.5L723.2,1037.6L717.7,1036.4L712.3,1035.8L706.8,1035.6L701.1,1036L695.3,1036.8L689.3,1038.2L689.6,1039.2L695.5,1037.9L701.2,1037.3L706.7,1037.5L711.8,1038.5L716.6,1040.3L720.9,1042.8L724.7,1045.9ZM727.5,1039.6L723,1038.9L718.7,1037.4L714.6,1035.2L710.8,1032.2L707.4,1028.5L704.4,1024.1L701.7,1019L700.8,1019.4L703.4,1024.6L706.4,1029.3L709.6,1033.4L713.1,1037.2L716.9,1040.5L721.2,1043.3L725.9,1045.8ZM729.8,1043.7L730.4,1038.4L730.7,1033.3L730.9,1028.1L730.8,1023L730.6,1017.9L730.1,1012.7L729.3,1007.5L728.3,1007.6L729,1012.8L729.3,1017.9L729.1,1023L728.4,1027.9L727.3,1032.7L725.7,1037.3L723.6,1041.7ZM730,1044.1L731.2,1039.4L732.9,1034.9L735.2,1030.6L738,1026.5L741.4,1022.7L745.2,1019.2L749.5,1016L748.9,1015.2L744.5,1018.4L740.4,1021.7L736.6,1025.2L733,1028.9L729.6,1032.8L726.4,1036.9L723.4,1041.3ZM726.1,1045.9L731.4,1045.7L736.4,1044.9L741.2,1043.5L745.9,1041.6L750.5,1039.2L755.1,1036.3L759.6,1032.7L759,1032L754.5,1035.4L749.9,1038.1L745.3,1040L740.6,1041.1L736.1,1041.3L731.6,1040.8L727.3,1039.5ZM723.6,1045.9L728.5,1048.7L733.4,1051.3L738.3,1053.5L743.3,1055.6L748.4,1057.4L753.7,1058.9L759.1,1060.3L759.3,1059.3L754,1057.9L748.9,1056L744.2,1053.6L739.9,1050.8L736,1047.4L732.7,1043.7L729.8,1039.5ZM722.9,1042.5L724,1047.8L725.5,1052.8L727.4,1057.6L729.8,1062.2L732.6,1066.6L735.8,1071L739.6,1075.3L740.3,1074.6L736.7,1070.3L733.7,1065.9L731.5,1061.3L730.1,1056.7L729.4,1052L729.6,1047.4L730.5,1042.9Z" fill="#000" stroke="none"/><path d="M725,1056.7Q727.4,1069.9 726.5,1078.9M725.5,1054.4Q719.6,1065.7 709.3,1075.2M708.7,1048Q706.3,1056.7 699.1,1066.8M710.2,1047.1Q704,1048.9 694.9,1052.1M710.6,1036.9Q698.4,1043.3 691,1048M710.6,1036.9Q704.7,1032.7 695.6,1030M716.7,1038.3Q705.5,1032.2 694.2,1026.4M729.8,1025.7Q726.6,1016.3 720.8,1006.7M733.9,1030Q740.9,1022.4 743.4,1013.2M737.8,1042.9Q749.4,1039.9 761.4,1039.8M739.2,1052.2Q750.6,1048.9 761,1049.7M735.3,1049.8Q745.9,1058.3 753,1063.5M727.4,1052.1Q740.2,1062.7 749.4,1071.2M727.6,1053Q732.9,1062.1 734.3,1075.9" fill="none" stroke="#000" stroke-width="0.8" stroke-linecap="round"/><circle cx="726.7" cy="1042.7" r="3.8" fill="#000"/></g>
<g><circle cx="636.7" cy="1076" r="29.2" fill="url(#pDot)"/><path d="M671.8,1076L672,1079.1L671,1082.1L669.1,1084.7L668.7,1087.6L669.1,1091.1L668,1094.1L665.8,1096.4L664.3,1099.2L662.5,1101.8L659.2,1102.8L656,1103.5L653.8,1105.6L651.6,1107.9L648.6,1108.8L645.8,1110L643.1,1112L639.9,1112.7L636.7,1111.3L633.7,1110.3L630.6,1110.3L627.7,1109.4L625.1,1107.8L622,1107.5L618.5,1107.6L615.8,1105.9L613.9,1103.2L611.5,1101.2L609.4,1098.9L608.6,1095.7L607.8,1092.7L605.4,1090.6L603.1,1088.2L602.4,1085.2L601.6,1082.2L600.2,1079.2L600.4,1076L602.4,1073L603.4,1070.1L603.2,1067L604,1064.1L605.5,1061.4L605.9,1058.2L606.4,1054.8L608.8,1052.6L612,1051.3L614.3,1049.2L616.6,1047.3L619.7,1046.5L622.5,1045.4L624.6,1042.8L627.3,1040.7L630.5,1040.6L633.6,1040.5L636.7,1039.9L639.8,1040.6L642.6,1042.7L645.4,1043.5L648.7,1043.1L651.7,1043.9L654.3,1045.6L657.4,1046.5L660.4,1047.7L662,1050.7L662.9,1054L664.8,1056.3L666.9,1058.6L667.8,1061.5L669,1064.2L671.6,1066.7L673.1,1069.6L672.4,1072.9ZM663.7,1076A27,27 0 1 0 609.7,1076A27,27 0 1 0 663.7,1076Z" fill="url(#pRim)" fill-rule="evenodd" stroke="none"/><path d="M630,1041.2l2.3,.5M661.5,1052.2l1.8,.8M626.5,1107.6l-.9,-1.5M611.6,1101.2l-1.8,-.6M607,1054.9l.2,-1.9M602.8,1071.9l.1,-2M615.4,1104.2l-2.3,-.3M610.3,1100.6l-.6,-1.1M632.5,1040.9l1.3,1M612.7,1101.1l-1.5,-.4M654.6,1104.3l-1.2,-.2M612,1052.3l.5,-2.2M604,1071.9l-.2,-1.7M611.5,1100.9l-.9,-1.3M618.8,1047.4l1.2,-.8M667.2,1060.6l.7,2.1M617.3,1048l.9,-1.8M648.6,1043.6l1.4,-.5M663.5,1099.5l-.4,1.2M668,1085.3l.1,2.3M672.9,1068.3l1.6,1.6M604.4,1064.1l.6,-1.4M669,1090.9l.2,2M599.4,1078.7l-.3,-2.3M609.1,1097.7l-2.3,-.3M618.4,1046.9l1.4,-.6M658.1,1103.2l-1.2,1.1M641.2,1041.4l2.2,-.9M601.2,1073.6l-.6,-1.6M603.9,1089.8l-1.2,-1.2M650.7,1044.3l1.2,.5M666.9,1061.5l.8,1.8M657.8,1102.4l-1.9,1.2M668.5,1062l.3,2M602.2,1082.2l-.2,-1.9M608.7,1094.8l-1.8,-1.1M642.1,1112.7l-2.3,-.1M661.6,1102.6l-1.6,.9M672.5,1069.7l-.6,1.2M669,1090.7l-1.2,.7M638.8,1040.9l1.4,.2M661.8,1053.5l2.2,.6M614.6,1050.2l.9,-2.1M638.4,1112.5l-1.8,.3M666.3,1059.6l0,1.9M619.1,1047.1l1.3,-.5M642.9,1111.9l-2.3,-.3M622.2,1106.8l-2.2,.4M663.7,1100.2l0,2.2M614.5,1050.2l.9,-2.2M668.1,1088.8l.2,1.5M601,1078.1l.6,-1.4M603.6,1067.8l.2,-1.7M626.6,1108.5l-2,.5M600.4,1078.6l.3,-1.5M643.1,1112.2l-1.3,-.7M668.4,1093.8l-.6,1.9M660.5,1048.8l2,.8M672.5,1073.3l-.5,2.2M606.2,1061.8l1.2,-.7M636.7,1110.5l-1.7,-.7M671.4,1073.8l-1.2,1.8M634.1,1041.2l1.5,-1.2M627.6,1041.2l2,.6M602.5,1071.6l.5,-1.2M610.9,1100.2l-.7,-2.1M603.5,1086.6l-.9,-1.9M644.2,1044l1.5,-.7M602.8,1070.1l.1,-1.4M654.7,1103.4l-1.6,1.6M624.8,1041.7l1.1,-.8M606.5,1059.5l1.1,-1.8M625.9,1108.5l-1.7,.2M628,1040.9l2.2,-.2M609.6,1053.1l1.2,-.3M649.4,1043.6l2.1,.7M649.6,1043.9l1.6,-.1M638.6,1112.1l-.9,.8M605.4,1057.1l2.2,-.8M599.5,1078.4l-1.5,-1.5" fill="none" stroke="#000" stroke-width="0.8" stroke-linecap="round"/><path d="M635.3,1072.5L631.7,1074.8L627.9,1076.7L623.8,1078.2L619.6,1079.4L615.2,1080.1L610.8,1080.4L606.2,1080.3L606.2,1081.3L610.8,1081.4L615.3,1081.4L619.8,1081.3L624.3,1081L628.8,1080.6L633.4,1080.1L638.1,1079.5ZM638.9,1073.5L634.9,1071.4L630.9,1069.6L626.8,1068.1L622.7,1066.9L618.4,1065.9L614,1065.2L609.4,1064.8L609.3,1065.8L613.9,1066.3L618.1,1067.2L622.1,1068.6L625.8,1070.4L629.1,1072.7L632,1075.4L634.5,1078.5ZM640.1,1074.6L637.3,1070.7L634.4,1067L631.3,1063.6L628.1,1060.3L624.7,1057.2L621,1054.2L617.1,1051.3L616.5,1052.1L620.3,1055L623.7,1058.2L626.7,1061.6L629.1,1065.2L631,1069.1L632.4,1073.2L633.3,1077.4ZM639.4,1075.4L638.1,1071.5L637.3,1067.4L637,1063.1L637.3,1058.8L638,1054.5L639.3,1050.1L641,1045.8L640.1,1045.3L638.3,1049.8L636.8,1054.2L635.6,1058.6L634.8,1063L634.2,1067.4L633.9,1071.9L634,1076.6ZM638,1078.7L641.7,1075.7L645.1,1072.6L648.2,1069.3L651.1,1065.7L653.7,1061.9L656,1057.8L658.2,1053.3L657.3,1052.9L655.1,1057.3L652.6,1061.2L649.8,1064.7L646.6,1067.6L643.1,1070.1L639.4,1072L635.4,1073.3ZM638.9,1078L641.3,1074.8L644.2,1072L647.6,1069.8L651.5,1068.1L655.9,1067L660.7,1066.6L665.8,1066.7L665.9,1065.7L660.7,1065.5L655.7,1065.8L651.1,1066.4L646.7,1067.6L642.5,1069.2L638.4,1071.3L634.5,1074ZM634.6,1079.1L639,1080.7L643.3,1082.1L647.6,1083.3L651.9,1084.4L656.3,1085.4L660.7,1086.2L665.2,1086.8L665.3,1085.8L660.9,1085.1L656.6,1084L652.5,1082.6L648.7,1080.7L645.1,1078.5L641.8,1075.8L638.8,1072.9ZM634.7,1079.2L638.3,1080.5L641.8,1082.3L645,1084.6L647.9,1087.3L650.5,1090.3L652.9,1093.8L654.9,1097.5L655.8,1097.1L653.8,1093.2L651.7,1089.6L649.4,1086.1L647,1082.7L644.4,1079.3L641.7,1076.1L638.7,1072.8ZM633.9,1077.2L636,1080.8L637.6,1084.7L638.5,1088.8L638.8,1093.1L638.4,1097.6L637.4,1102.3L635.7,1107L636.6,1107.4L638.4,1102.6L639.6,1097.9L640.5,1093.2L640.9,1088.7L640.9,1084.1L640.4,1079.5L639.5,1074.8ZM634.1,1074.6L632.6,1078.5L630.8,1082.2L628.7,1085.8L626.2,1089.2L623.4,1092.4L620.3,1095.4L616.9,1098.2L617.5,1099L621,1096.2L624.3,1093.3L627.5,1090.4L630.5,1087.3L633.5,1084.2L636.5,1080.9L639.3,1077.4Z" fill="#000" stroke="none"/><path d="M622.5,1079.9Q615.2,1084.7 608.7,1087.7M623.6,1068.2Q619.2,1062.7 612.6,1058.4M628.9,1062.7Q619,1061.6 613.7,1060M629.8,1063.8Q624.6,1056.6 622.2,1050M635.8,1064.5Q636.2,1055.3 634.5,1046.2M635.8,1066.6Q639.1,1057.2 645.6,1047.2M644.3,1071.2Q646.1,1060.1 651.8,1053.1M647.5,1068.4Q652,1062.6 660.3,1059.4M643.4,1070.5Q650.3,1068.2 660.7,1062.7M647.2,1068.6Q659.7,1068.9 667.2,1073.4M645.4,1080.8Q657.1,1081.8 666.2,1079.9M648,1082Q655.2,1085.7 661.2,1093.2M646,1083.7Q650.4,1087.2 659.7,1094.9M642.9,1080.7Q647.6,1089 651.6,1099.9M628,1088.5Q618.3,1089.4 612,1094" fill="none" stroke="#000" stroke-width="0.8" stroke-linecap="round"/><circle cx="636.7" cy="1076" r="3.1" fill="#000"/></g>
<g><circle cx="548.8" cy="1075.5" r="28" fill="url(#pDot)"/><path d="M581.6,1075.5L581.1,1078.3L581.6,1081.3L581.1,1084.2L580,1086.9L579.9,1090L579.5,1093.3L577.3,1095.4L574.4,1096.9L572.4,1099.1L570.4,1101.2L567.5,1102.2L565,1103.6L563.2,1106.4L560.8,1108.5L557.7,1108.8L554.7,1109.1L551.8,1109.9L548.8,1109.3L546,1107.7L543.2,1107.4L540.1,1108.1L537.1,1107.6L534.5,1106.2L531.5,1105.5L528.5,1104.4L526.9,1101.6L525.7,1098.6L523.6,1096.7L521.4,1094.7L520.3,1092L518.7,1089.5L516.1,1087.4L514.6,1084.7L515.1,1081.4L515.4,1078.4L514.9,1075.5L515.7,1072.6L517.1,1069.9L517.1,1067L516.4,1063.7L517.3,1060.8L519.2,1058.4L520.5,1055.7L522.2,1053.2L525.2,1051.9L528.1,1050.9L529.9,1048.5L531.9,1046.2L534.6,1045.1L537.2,1043.7L539.7,1041.5L542.7,1040.8L545.9,1042L548.8,1042.6L551.7,1042.2L554.6,1042.9L557.2,1044.1L560.3,1044L563.7,1043.6L566.3,1045.2L568.3,1047.7L570.7,1049.4L572.9,1051.4L573.9,1054.5L575.1,1057.1L577.7,1058.8L580.1,1060.9L580.9,1063.8L581.9,1066.6L583.3,1069.4L583.3,1072.5ZM574.7,1075.5A25.9,25.9 0 1 0 522.9,1075.5A25.9,25.9 0 1 0 574.7,1075.5Z" fill="url(#pRim)" fill-rule="evenodd" stroke="none"/><path d="M554.1,1042.6l1.8,-.6M536.8,1043.8l2.3,.4M534.7,1044.4l1.4,-.6M578.6,1060l1.2,.7M516.8,1067.6l0,-2.3M573.1,1053.4l1.3,1.4M530,1048.2l.5,-2M565.3,1103.2l-1.2,.6M528.3,1050.8l.9,-1.9M570.1,1101.9l-.5,2.1M517.9,1067.4l-.2,-2.3M533,1045.6l1.4,-.2M516.8,1069.4l-.2,-1.7M582.3,1075.1l.7,2.2M581,1077.2l-1.2,1.7M521.8,1054.4l1.8,-.3M575.9,1057.2l.5,1.7M532.9,1046.5l1.7,-1.6M565.4,1102.2l-1.8,-.1M542.9,1107.9l-1.4,-1M515.9,1078.4l-.2,-2M533.3,1046l1.3,.2M583.8,1070l1.3,1.6M582.4,1067.4l.8,2M520.4,1055.1l-.2,-1.7M569.1,1048.7l.4,1.8M572.1,1099.7l-.2,1.5M565.4,1044.3l1.2,-.1M515.9,1075.9l-.9,-1.5M525.2,1097.5l-.7,-1.4M520.8,1056.9l1.8,-1.2M566.9,1047.1l.6,2M569.3,1048.8l.8,1M581.4,1067.7l.4,1.4M582.3,1074.2l.3,1.9M545.2,1042.6l1.5,-.6M525.3,1052.7l1.5,-1M536.3,1044.7l.9,-1.6M579.6,1090.1l.5,2.2M522.6,1053.3l.4,-1.6M540.7,1108.4l-1.5,-.5M549.6,1109.9l-2.1,1M540.4,1041.1l1.6,-1.7M522.8,1096.2l-.2,-2.3M546.4,1108.5l-1.1,.9M539.4,1041.6l1.2,.6M546.5,1107.2l-1.2,.2M515,1079.3l.8,-1.3M521.1,1092.2l-1,-1.8M536.4,1045.3l1.2,-1.1M514.4,1086.1l-1.6,-1.6M546.8,1108.4l-1.2,-.8M545.1,1041l1.8,.9M571.2,1049.9l1.9,1.2M537,1107l-.7,-1.2M515,1074.3l-.4,-1.2M558.3,1044.1l1.3,.8M530,1048.7l2.2,.1M578.1,1059.6l1.7,.7M566.5,1046.1l1.3,1.7M551.6,1109.2l-1.2,-.7M542.5,1107l-1.9,-.7M557.6,1045.1l1.3,1.5M527.7,1102.9l-2.2,-.8M568.2,1047.8l.4,1.2M579.1,1093.2l-.5,1.5M514.8,1074.3l-.3,-2.2M553.8,1042.1l2.2,-.5M545.8,1042.5l1.9,.5M515.5,1082.2l-1.1,-1M584,1072l.4,1.5M518.5,1059.4l.9,-1M517,1068.6l.8,-1.5M546.2,1108.2l-2.2,.6M570.4,1048.7l1.5,.5M517.5,1059.6l.8,-1.6M569.5,1049.3l1.1,1.3" fill="none" stroke="#000" stroke-width="0.8" stroke-linecap="round"/><path d="M547.8,1072.1L544.1,1074.3L540.7,1076.7L537.5,1079.3L534.5,1082.2L531.7,1085.2L529.1,1088.6L526.6,1092.2L527.4,1092.8L529.9,1089.2L532.7,1086.1L535.8,1083.6L539,1081.5L542.5,1080.1L546.1,1079.2L549.8,1078.9ZM549.4,1072.9L545.1,1072.7L540.8,1072.7L536.6,1073L532.4,1073.5L528.2,1074.2L524,1075.2L519.7,1076.4L520,1077.3L524.2,1076.2L528.4,1075.4L532.5,1075.1L536.6,1075.2L540.6,1075.7L544.4,1076.7L548.2,1078.1ZM549.6,1072.2L545.9,1072L542.3,1071.1L538.9,1069.5L535.6,1067.3L532.7,1064.4L530,1060.9L527.7,1056.9L526.8,1057.4L529.1,1061.5L531.7,1065.2L534.4,1068.6L537.3,1071.6L540.5,1074.3L544.1,1076.7L548,1078.8ZM552.2,1076.3L552.1,1071.8L551.5,1067.6L550.5,1063.5L549.1,1059.5L547.4,1055.6L545.2,1051.7L542.6,1047.8L541.8,1048.3L544.3,1052.2L546.1,1056.2L547.3,1060.1L547.8,1064L547.7,1067.7L546.8,1071.3L545.4,1074.7ZM551.1,1078.3L553.5,1074.8L555.6,1071.2L557.4,1067.6L558.8,1063.9L559.9,1060L560.8,1055.8L561.5,1051.5L560.5,1051.4L559.8,1055.6L558.7,1059.6L557.1,1063.1L555,1066.3L552.5,1068.9L549.7,1071.1L546.5,1072.7ZM550.8,1077.1L552.8,1074L555.2,1071.3L558.1,1068.9L561.4,1066.9L565,1065.3L569,1064.1L573.3,1063.4L573.2,1062.4L568.8,1063.1L564.6,1064.1L560.7,1065.4L557,1067L553.5,1069L550.1,1071.2L546.8,1073.9ZM550.1,1077.9L552.9,1075.9L556.1,1074.5L559.6,1073.7L563.3,1073.6L567.2,1074.2L571.2,1075.4L575.4,1077.2L575.9,1076.4L571.6,1074.4L567.5,1073L563.5,1072L559.5,1071.5L555.5,1071.5L551.6,1072L547.5,1073.1ZM547.5,1078L551.2,1079.4L554.8,1081.3L558.2,1083.5L561.4,1086.2L564.4,1089.2L567,1092.6L569.5,1096.2L570.3,1095.7L567.9,1092L565.3,1088.4L562.6,1085L559.8,1081.8L556.8,1078.8L553.6,1075.8L550.1,1073ZM546,1074.5L545.5,1079L545.6,1083.3L546.2,1087.5L547.3,1091.7L548.9,1095.8L551,1100L553.6,1104.3L554.5,1103.7L551.9,1099.5L550,1095.4L548.9,1091.3L548.5,1087.3L548.9,1083.5L549.9,1079.9L551.6,1076.5ZM546.9,1073.5L544.6,1076.9L542.6,1080.4L540.9,1084L539.4,1087.7L538.2,1091.6L537.2,1095.6L536.5,1099.8L537.5,1099.9L538.2,1095.8L539.4,1091.9L540.9,1088.4L542.8,1085.1L545.1,1082.2L547.8,1079.7L550.7,1077.5Z" fill="#000" stroke="none"/><path d="M536,1082.1Q531.4,1087.5 531.1,1096.8M536.5,1081.8Q530.8,1082.3 521.9,1087M534,1074.2Q528.8,1079.6 521.4,1084.4M539.9,1074.2Q532.6,1075.6 521.6,1072.7M537,1069.7Q531.6,1067.3 523.8,1062.5M537.8,1070.4Q533.5,1062.2 533,1050.7M549.6,1067.5Q547,1058.5 549.2,1048.6M557.1,1065.2Q557.6,1054.3 553.8,1048.1M557.5,1064.4Q560.1,1059.7 566,1052.7M555.5,1069.3Q563.4,1060.1 570,1055.2M559.5,1066.9Q568.5,1065.1 576.8,1067.1M556.1,1073Q567.5,1071.7 576,1070.3M560,1072.6Q570.2,1080 576.1,1083.9M558.3,1082.1Q565.7,1084.4 572.5,1091M560.9,1084.4Q564.2,1093.3 563.2,1097.4M547.2,1083.9Q554.7,1091.7 561,1100M547.2,1083.4Q544.4,1094.1 546,1102.4M542.7,1083Q541.7,1090.8 543.8,1101.4M540.9,1086.4Q536.7,1091.6 532.4,1098.2" fill="none" stroke="#000" stroke-width="0.8" stroke-linecap="round"/><circle cx="548.8" cy="1075.5" r="3" fill="#000"/></g>
<g><circle cx="459.3" cy="1075" r="28" fill="url(#pDot)"/><path d="M493.6,1075L492.5,1077.9L490.9,1080.6L490.7,1083.4L491.3,1086.7L490.8,1089.7L489,1092.2L487.3,1094.6L485.8,1097.3L483.5,1099.2L480.4,1100.1L477.7,1101.2L475.8,1103.6L473.8,1106.1L471,1107.2L468.1,1107.9L465.3,1109.1L462.3,1109.9L459.3,1108.9L456.5,1107.2L453.7,1106.9L450.6,1107.4L447.7,1107L445,1105.6L442.2,1104.6L439.1,1103.8L436.8,1101.8L435.7,1098.6L434.5,1095.8L432.4,1093.9L430.2,1091.8L428.9,1089.2L427.7,1086.5L425.8,1084L424.4,1081.2L424.9,1078L426.3,1075L426.8,1072.2L426.5,1069.2L427.1,1066.4L428.2,1063.7L428.7,1060.7L428.8,1057.4L430.3,1054.7L433.3,1053.2L436,1051.7L438,1049.6L440.1,1047.6L442.9,1046.5L445.4,1045.2L447.6,1042.8L450.1,1040.8L453.2,1040.6L456.4,1041.5L459.3,1041.6L462.2,1041.5L465,1042.4L467.7,1043.7L470.6,1043.9L474,1043.5L477,1044.4L479,1046.8L481,1049.2L483.3,1051L485.1,1053.4L486,1056.3L487.2,1058.9L489.8,1060.8L492.2,1063L492.9,1066L492.9,1069.1L493.3,1072ZM485.2,1075A25.9,25.9 0 1 0 433.4,1075A25.9,25.9 0 1 0 485.2,1075Z" fill="url(#pRim)" fill-rule="evenodd" stroke="none"/><path d="M453.6,1041.1l2.1,.2M491.2,1082.3l1.1,2M490.7,1090.8l-1.1,1.6M440.5,1046.7l1.7,-1.5M490.8,1087.9l-1,1.6M475,1043.3l1.6,.2M433.3,1093.8l0,-2.3M426.9,1067.2l-1.2,-1.9M427.3,1071.4l1,-1.5M491.2,1087.6l.1,1.2M454.6,1106.8l-1.1,-.9M434.7,1096.4l-2.2,-.8M426.7,1073.2l-1.2,-1.4M465.5,1108.2l-2.1,.4M484.1,1099l-1.3,1.4M464.6,1109.4l-.9,1.1M452.7,1107.1l-2,-.9M449.8,1108l-1.6,.4M481,1049.9l.5,1.4M487.2,1094.6l-1.9,.8M426.5,1066.3l.1,-2.4M473.2,1044l2.2,-.6M482.7,1050.8l1,1.3M469.4,1044.2l1.7,.3M447.2,1043.1l.8,-1.3M429.4,1061.7l1.2,-1M490.3,1089.8l-1.7,.8M487.8,1093.5l-.8,1M424.9,1078.4l-.8,-1.5M490.3,1061.1l.7,1.8M428.4,1087.2l.4,-2.1M468.4,1108.3l-1.1,1.7M493.3,1071.4l.3,2.1M444.9,1105.3l-1.1,-1.2M429,1090.1l-.1,-1.5M427.1,1074.3l.7,-1.1M479.5,1100.3l-.3,1.5M475.7,1044.1l.6,1.5M462.7,1041.7l1.3,1.1M491.4,1063.5l.6,1.2M429.1,1063.1l-.8,-2.2M437.5,1101.7l-2.3,-.6M472.6,1105.8l-2.3,.6M477.3,1045l1.4,-.2M475.3,1043.7l2,-.6M472.9,1043.5l1.4,.6M429.9,1056.2l.3,-1.5M477,1102.6l-1.8,-.3M491.9,1068l1.7,1.5M491.1,1081.7l-.4,2.3M475.7,1103.5l-1.3,1.5M493.2,1065.9l-.9,1.6M428.7,1087.3l-.9,-2M425.8,1082.2l-1.2,-1.5M479.8,1047.8l1.7,.4M469.8,1043.5l1.6,1.3M451.3,1040.8l1.2,-.3M490.3,1084.5l-.7,1.1M476.7,1043.8l1.1,2.1M441,1046.6l1.5,.3M444.3,1046l.7,-2M484.6,1051.5l1.3,.6M441.2,1103.9l-2.3,0M434.8,1097.2l-1,-1M487.3,1094.5l-.9,1.1M424.6,1081.9l.3,-1.4M480.2,1048.5l1.4,1.6M477.3,1045.6l.5,1.8M438.7,1049.9l1.5,-.7M467.2,1043.5l1.5,1M459.3,1042.2l1.3,-1M481,1048.8l1.9,.8M446.8,1044.5l1,-1.6M442.6,1046.9l.8,-1.6M474.1,1105.9l-.6,1.7M471.7,1106.5l-.8,1.7M484.2,1052.8l1.1,.9" fill="none" stroke="#000" stroke-width="0.8" stroke-linecap="round"/><path d="M461.8,1072.5L457.9,1070.3L454,1068.6L450.1,1067.2L446.1,1066.1L441.9,1065.4L437.6,1064.9L433,1064.8L433,1065.8L437.5,1066L441.7,1066.7L445.6,1067.9L449,1069.6L452.1,1071.8L454.7,1074.5L456.8,1077.5ZM461.7,1073.1L458.8,1070.3L456.1,1067.2L453.9,1063.8L452,1060.1L450.4,1056.2L449.2,1052L448.4,1047.7L447.4,1047.8L448.2,1052.3L449.2,1056.5L450.3,1060.7L451.7,1064.8L453.2,1068.8L455,1072.8L456.9,1076.9ZM461.6,1076.2L462.9,1071.9L463.9,1067.7L464.5,1063.4L464.8,1059.1L464.8,1054.7L464.4,1050.2L463.8,1045.6L462.8,1045.8L463.4,1050.3L463.5,1054.7L463.2,1058.9L462.4,1063L461,1066.9L459.3,1070.5L457,1073.8ZM462.2,1077.1L463.7,1073.7L465.7,1070.5L468.1,1067.6L470.9,1064.9L474.1,1062.6L477.6,1060.5L481.3,1058.8L480.9,1057.9L477.1,1059.6L473.4,1061.4L469.9,1063.4L466.4,1065.5L463,1067.7L459.7,1070.2L456.4,1072.9ZM457.9,1077.2L462.1,1078.8L466.3,1079.9L470.6,1080.6L474.9,1080.9L479.3,1080.9L483.9,1080.4L488.6,1079.5L488.4,1078.5L483.7,1079.4L479.3,1079.6L475,1079.3L471,1078.5L467.2,1077.1L463.8,1075.2L460.7,1072.8ZM456.7,1076.9L460,1079.8L463.3,1082.7L466.6,1085.3L470,1087.9L473.5,1090.4L477.1,1092.8L480.8,1095.1L481.3,1094.3L477.7,1092L474.3,1089.4L471.2,1086.6L468.4,1083.5L465.9,1080.3L463.7,1076.8L461.9,1073.1ZM457.2,1076.6L459.8,1079.3L461.8,1082.5L463.2,1086.1L464,1090L464.2,1094.2L463.8,1098.7L462.7,1103.4L463.7,1103.7L464.8,1098.9L465.4,1094.3L465.6,1089.9L465.3,1085.6L464.5,1081.5L463.2,1077.4L461.4,1073.4ZM457.2,1073L455.1,1076.6L453.2,1080.1L451.6,1083.8L450.2,1087.5L449,1091.3L448,1095.3L447.2,1099.5L448.2,1099.6L449,1095.6L450.2,1091.7L451.7,1088.1L453.6,1084.9L455.9,1081.9L458.5,1079.2L461.4,1077ZM459.8,1071.7L455.3,1072.2L451.1,1073.2L447.2,1074.6L443.4,1076.4L439.7,1078.7L436,1081.4L432.4,1084.7L433.1,1085.4L436.7,1082.3L440.4,1079.8L444.1,1078L447.9,1077L451.7,1076.7L455.3,1077.1L458.8,1078.3Z" fill="#000" stroke="none"/><path d="M452.3,1069.8Q444.3,1070 432.5,1073.3M447.8,1067.7Q440.9,1063.4 435.6,1061.5M454.1,1066.9Q454.9,1058.8 453.3,1049.1M462.8,1065.9Q461.4,1054.4 456.7,1046.8M463.4,1063.3Q466.6,1054.2 469.6,1047.8M469.1,1065.1Q471.3,1057.3 475.9,1053.6M466.9,1066.8Q477.4,1067.1 485.3,1062.9M473.3,1080Q482.4,1074.5 487.4,1073.6M468.6,1079.1Q475.7,1080.8 485.3,1084.1M469.5,1086.3Q474.2,1087.8 483,1087.6M464.7,1081.6Q469.6,1091 476.3,1098.8M464.5,1087.1Q464.4,1096.7 467.4,1102M464.3,1085.9Q461.1,1092.8 458.2,1101M451.6,1086.3Q449.1,1092.1 442,1097.8M450.4,1075.1Q443.5,1082.1 436.3,1091.7M444.7,1076.8Q440.7,1080.6 431.8,1079.5" fill="none" stroke="#000" stroke-width="0.8" stroke-linecap="round"/><circle cx="459.3" cy="1075" r="3" fill="#000"/></g>
<g><circle cx="371" cy="1064.3" r="32.8" fill="url(#pDot)"/><path d="M411,1064.3L410.6,1067.8L410.3,1071.2L408.6,1074.4L406.5,1077.2L405.8,1080.5L406,1084.5L404.9,1088L401.9,1090.2L398.8,1092.1L396.4,1094.5L393.5,1096.5L390.1,1097.4L387.1,1098.9L384.7,1101.8L381.7,1104.4L378.1,1104.6L374.4,1103.5L371,1103.2L367.6,1103.4L364.3,1102.5L361.1,1101.3L357.5,1101.3L353.6,1101.7L350.3,1100.1L348.3,1096.8L346.3,1093.8L343.6,1091.7L341,1089.5L339.2,1086.6L337.1,1083.9L334.1,1081.5L332,1078.5L332.2,1074.7L333.2,1071L332.9,1067.6L331.8,1064.3L331.8,1060.9L332.4,1057.5L332.2,1053.9L332.1,1050.2L334.1,1047.1L337.5,1045L340,1042.6L341.3,1039.4L342.9,1036.2L345.5,1033.9L348.1,1031.6L350.6,1028.9L353.7,1027.2L357.6,1027.5L361.3,1027.9L364.4,1026.6L367.5,1024.7L371,1024.1L374.5,1024.5L378,1024.6L381.6,1024.9L384.6,1027L387,1030L389.9,1031.6L393.6,1032L397.1,1033.1L399.5,1035.8L401.6,1038.6L404,1041.2L405.6,1044.3L405.8,1048.1L406.3,1051.4L408.6,1054.2L411.1,1057.2L411.7,1060.7ZM401.3,1064.3A30.3,30.3 0 1 0 340.7,1064.3A30.3,30.3 0 1 0 401.3,1064.3Z" fill="url(#pRim)" fill-rule="evenodd" stroke="none"/><path d="M410.1,1069.2l-.5,1.4M348.9,1096.6l-1.1,-1.8M389,1030.7l1.5,1.6M407.7,1074.8l.2,1.5M340.2,1087.9l-.2,-1.6M347.1,1095.7l-1.2,.1M410.6,1071.6l-1.1,1.6M380.2,1105l-1.5,1.5M411.4,1064.1l.8,1.3M361.7,1102.1l-1.4,-1M362.3,1100.6l-1.2,-.8M345.9,1033.7l1.9,-1.3M406,1076.5l-.6,1.1M403.3,1041.8l-.4,2.1M387.4,1031.4l2.4,-.4M341.3,1090.8l-1.8,-.2M340.9,1039.6l.6,-1.5M405.6,1042l1.5,.8M375,1102.9l-2,.6M346,1034.3l.6,-2M335.3,1045.8l1.6,-1.3M332.6,1062.7l.5,-1.9M342.4,1090.1l-1.3,-1.9M348.5,1095.8l-.4,-1.9M331.8,1057.6l-.7,-1.2M337.2,1045.8l1.4,-1.2M400.5,1037.2l.9,1.7M346,1092.7l-.3,-2.3M364.3,1101.3l-2,1.1M332.9,1071.9l.2,-1.6M378.4,1104.8l-1.9,-.9M384.5,1026.5l1.8,-.7M370.2,1023.7l1.4,-1.2M332.4,1058.3l-.2,-1.8M406.6,1077.8l-1.6,.7M377.9,1023.9l2.1,.8M407.8,1052.8l.5,2M362.1,1028.2l1.4,-.3M382.7,1104.5l-1.6,-.8M342,1089.7l-.5,-1.7M331.4,1077.6l-1.6,-.8M386,1028.9l.9,1.3M363.3,1026.6l1.7,-.8M410.7,1065.9l.4,1.3M337,1045.3l1.1,-.6M332,1053.1l-.2,-2.1M332.1,1060.5l-1,-1.8M349.4,1099.7l-.6,-2.3M375.8,1024.6l2.1,-1.1M332.4,1049.8l-.3,-1.3M384.5,1027l1.8,-.1M335.5,1083.5l-1.6,-1.3M379.5,1104.8l-1.3,-.4M411.2,1058.5l1.1,1M392.4,1032.3l1.2,1.2M342.8,1038l.4,-2M339,1084.6l.3,-2.2M365.8,1102.7l-1.4,-.5M408.4,1072.8l-.7,1.4M373.4,1103.6l-1.3,-.3M409.8,1070.3l-1.3,1.1M332.8,1076.4l-1.1,-.7M373.5,1025.2l2.1,.1M408.2,1055.1l.3,2.1M409.8,1072.4l-1.3,1.2M343.7,1091l-1.1,-.5M342.4,1090.7l-2,-.1M407.5,1052.5l-.9,1.8M392.3,1096.6l-1.6,.5M395.8,1033.4l1,1.5M405.6,1043.2l1.1,.9M411,1056.5l1.1,1.1M401.4,1038l1.7,.3M352.2,1028.6l1.1,-2M402.7,1089.2l-1.6,1.2M342,1039.6l.7,-1.2M362.7,1028.5l1.4,.8M347.1,1093.5l-.3,-2.4M381.2,1104.9l-1.4,-.8M412,1061.7l.5,1.1M341.7,1090.7l-.9,-1.3M384.5,1100.4l-1.3,1.6M396.5,1095l-1.4,1.5M333.7,1048l.7,-1.6M340.4,1043.8l.1,-1.6M406.1,1082.2l-.9,.9M342.1,1089.6l-2.1,-.3M333,1079.1l-.4,-2M402.5,1039.8l1.1,.8M389.8,1096.5l-1.6,.2" fill="none" stroke="#000" stroke-width="0.8" stroke-linecap="round"/><path d="M373.8,1064.2L373.3,1060L373.6,1055.7L374.6,1051.5L376.4,1047.3L379,1043.3L382.3,1039.4L386.4,1035.8L385.7,1035L381.6,1038.7L378,1042.5L375,1046.4L372.5,1050.6L370.6,1054.9L369.1,1059.5L368.2,1064.4ZM373.5,1066.5L376,1063L379.1,1059.9L382.8,1057.3L387,1055.4L391.7,1054.1L396.8,1053.4L402.3,1053.4L402.3,1052.4L396.7,1052.3L391.4,1052.8L386.5,1053.7L381.7,1055L377.2,1056.8L372.8,1059.1L368.5,1062.1ZM368.5,1067.6L373.1,1069.5L377.7,1071L382.3,1072.2L386.9,1073.1L391.7,1073.7L396.5,1074L401.6,1074L401.5,1073L396.6,1072.9L391.9,1072.3L387.4,1071.1L383.3,1069.3L379.6,1067L376.3,1064.3L373.5,1061ZM367.2,1064.4L368.6,1069.1L370.4,1073.5L372.6,1077.6L375.1,1081.5L378,1085.3L381.3,1088.9L385,1092.5L385.7,1091.7L382,1088.2L379,1084.5L376.7,1080.6L375.1,1076.5L374.3,1072.4L374.2,1068.3L374.8,1064.2ZM367.8,1064.5L368.7,1068.9L369.1,1073.3L368.9,1077.7L368.1,1082.2L366.7,1086.7L364.9,1091.1L362.5,1095.5L363.3,1096L365.8,1091.6L367.9,1087.2L369.8,1082.7L371.3,1078.3L372.5,1073.7L373.5,1069L374.2,1064.1ZM368,1062.9L366.6,1067.3L364.5,1071.3L361.8,1075.1L358.4,1078.4L354.3,1081.3L349.7,1083.8L344.6,1085.9L344.9,1086.8L350.2,1084.8L355,1082.5L359.4,1079.8L363.5,1076.9L367.3,1073.6L370.8,1069.9L374,1065.7ZM372,1060.7L367.1,1060.6L362.4,1060.8L357.8,1061.4L353.3,1062.2L348.8,1063.3L344.2,1064.7L339.6,1066.4L340,1067.3L344.5,1065.7L349.1,1064.6L353.5,1064.1L357.9,1064.1L362.2,1064.8L366.2,1066.1L370,1067.9ZM371.4,1061.6L367.2,1061.4L363,1060.5L359,1058.9L355.2,1056.7L351.6,1053.8L348.2,1050.2L345.1,1046.1L344.3,1046.7L347.4,1050.9L350.7,1054.7L354.2,1058L357.9,1060.9L361.8,1063.3L366.1,1065.4L370.6,1067ZM374.2,1062.9L371.8,1059.1L369.9,1055L368.4,1050.7L367.4,1046.2L366.9,1041.6L366.9,1036.8L367.4,1031.9L366.4,1031.7L365.9,1036.7L365.6,1041.6L365.6,1046.4L365.8,1051.2L366.2,1055.9L366.9,1060.8L367.8,1065.7Z" fill="#000" stroke="none"/><path d="M372.6,1053.7Q375.5,1045.6 378.8,1033.4M374.6,1048.9Q382.8,1044.1 391.5,1037.8M383.5,1055.6Q391.2,1052.2 397.7,1049M382,1056.3Q393.2,1058.1 402.1,1060.1M383.1,1070.8Q393.4,1070.8 401.4,1066.8M386.4,1071.9Q391.6,1076.2 399.9,1082.5M375.2,1079.8Q383.8,1084.6 394.3,1088M373.1,1075.1Q375.2,1084.4 377.6,1097.6M369.7,1079.4Q373,1086.9 372,1098.4M370.2,1077.5Q363.1,1083 355.9,1091M364.8,1073.8Q361.1,1081.9 353.2,1091.5M364,1074.6Q354.5,1075.8 342.1,1079.1M362.3,1062.8Q348.9,1058.7 340,1059.2M361.4,1061.5Q349.8,1055.3 341,1052.9M362.5,1061.9Q358.3,1048.7 349.8,1038.5M368.2,1056.2Q362.4,1044 358.9,1036.5M366.7,1048.2Q371.9,1037.5 374.4,1031.7" fill="none" stroke="#000" stroke-width="0.8" stroke-linecap="round"/><circle cx="371" cy="1064.3" r="3.5" fill="#000"/></g>
</g>
<g id="walls">
<rect x="196.7" y="96.0" width="189.1" height="10.7" fill="#000"/>
<rect x="375.5" y="96.0" width="10.3" height="201.5" fill="#000"/>
<rect x="196.7" y="96.0" width="10.0" height="18.2" fill="#000"/>
<rect x="196.7" y="165.0" width="10.0" height="62.5" fill="#000"/>
<rect x="196.7" y="281.6" width="10.0" height="18.4" fill="#000"/>
<rect x="196.7" y="338.4" width="10.0" height="16.1" fill="#000"/>
<rect x="341.0" y="228.3" width="35.0" height="8.4" fill="#000"/>
<rect x="340.7" y="106.7" width="5.3" height="5.3" fill="#000"/>
<rect x="340.7" y="224.0" width="5.3" height="12.7" fill="#000"/>
<rect x="369.0" y="289.5" width="7.0" height="8.0" fill="#000"/>
<rect x="206.0" y="290.3" width="31.0" height="7.2" fill="#000"/>
<rect x="276.6" y="290.3" width="56.4" height="7.2" fill="#000"/>
<rect x="321.0" y="297.5" width="5.8" height="57.0" fill="#000"/>
<rect x="196.7" y="342.3" width="130.1" height="6.4" fill="#000"/>
<rect x="321.0" y="392.3" width="5.8" height="43.5" fill="#000"/>
<rect x="191.7" y="429.4" width="135.1" height="6.4" fill="#000"/>
<rect x="191.7" y="422.0" width="15.0" height="13.8" fill="#000"/>
<rect x="98.6" y="335.6" width="51.2" height="6.0" fill="#000"/>
<rect x="144.0" y="335.6" width="5.8" height="9.6" fill="#000"/>
<rect x="98.6" y="335.6" width="6.6" height="99.4" fill="#000"/>
<rect x="98.3" y="426.0" width="55.7" height="9.0" fill="#000"/>
<rect x="143.5" y="423.0" width="10.5" height="12.0" fill="#000"/>
<rect x="98.3" y="426.0" width="11.0" height="297.3" fill="#000"/>
<rect x="98.3" y="713.3" width="26.7" height="10.0" fill="#000"/>
<rect x="261.7" y="713.3" width="22.3" height="10.4" fill="#000"/>
<rect x="275.6" y="435.0" width="5.9" height="99.5" fill="#000"/>
<rect x="275.6" y="572.5" width="5.9" height="151.2" fill="#000"/>
<rect x="275.6" y="524.2" width="134.4" height="5.6" fill="#000"/>
<rect x="366.4" y="430.0" width="7.8" height="56.4" fill="#000"/>
<rect x="368.0" y="480.0" width="42.0" height="6.4" fill="#000"/>
<rect x="403.9" y="480.0" width="6.1" height="54.5" fill="#000"/>
<rect x="403.9" y="572.5" width="6.1" height="115.2" fill="#000"/>
<rect x="275.6" y="677.4" width="22.2" height="10.3" fill="#000"/>
<rect x="394.0" y="677.4" width="20.6" height="10.3" fill="#000"/>
<rect x="454.9" y="631.0" width="5.7" height="56.3" fill="#000"/>
<rect x="451.0" y="677.4" width="23.0" height="9.9" fill="#000"/>
<rect x="566.7" y="678.0" width="67.0" height="9.3" fill="#000"/>
<rect x="753.7" y="677.3" width="21.6" height="11.0" fill="#000"/>
<rect x="764.5" y="390.2" width="10.8" height="171.5" fill="#000"/>
<rect x="764.5" y="658.3" width="10.8" height="30.0" fill="#000"/>
<rect x="621.8" y="390.2" width="45.8" height="9.1" fill="#000"/>
<rect x="740.2" y="390.2" width="35.1" height="9.1" fill="#000"/>
<rect x="621.8" y="386.0" width="5.7" height="49.3" fill="#000"/>
<rect x="659.0" y="399.3" width="5.0" height="33.7" fill="#000"/>
<rect x="621.8" y="483.4" width="5.5" height="61.9" fill="#000"/>
<rect x="621.8" y="538.4" width="45.8" height="6.9" fill="#000"/>
<rect x="730.0" y="538.4" width="35.0" height="6.9" fill="#000"/>
<rect x="425.3" y="288.3" width="206.0" height="10.0" fill="#000"/>
<rect x="622.0" y="288.3" width="9.3" height="25.0" fill="#000"/>
<rect x="431.0" y="426.6" width="191.0" height="6.0" fill="#000"/>
<rect x="431.0" y="423.8" width="5.7" height="8.8" fill="#000"/>
<rect x="375.6" y="288.3" width="14.2" height="9.2" fill="#000"/>
<rect x="375.6" y="297.5" width="5.7" height="37.8" fill="#000"/>
<rect x="431.0" y="298.0" width="5.7" height="85.4" fill="#000"/>
<rect x="375.6" y="377.2" width="92.1" height="6.2" fill="#000"/>
<rect x="375.6" y="373.5" width="5.9" height="9.9" fill="#000"/>
<rect x="463.0" y="298.0" width="5.5" height="5.5" fill="#000"/>
<rect x="462.5" y="372.0" width="6.0" height="11.4" fill="#000"/>
</g>
<g id="lines">
<line x1="99.3" y1="97.6" x2="197.0" y2="97.6" stroke="#000" stroke-width="2.2"/>
<line x1="100.3" y1="97.0" x2="100.3" y2="336.0" stroke="#000" stroke-width="2"/>
<path d="M100,114.6 A44.5,34 0 0 1 100,182.6" fill="none" stroke="#000" stroke-width="2" />
<path d="M100,227.5 A45,45 0 0 1 145,272.5 L145,336" fill="none" stroke="#000" stroke-width="2" />
<path d="M176.4,179.9 H196.7 V214.7 H176.4 Z" fill="none" stroke="#000" stroke-width="2" />
<line x1="197.6" y1="114.0" x2="197.6" y2="165.0" stroke="#000" stroke-width="1.3"/>
<line x1="201.4" y1="114.0" x2="201.4" y2="165.0" stroke="#000" stroke-width="1.3"/>
<line x1="205.6" y1="114.0" x2="205.6" y2="165.0" stroke="#000" stroke-width="1.3"/>
<line x1="197.6" y1="227.5" x2="197.6" y2="282.0" stroke="#000" stroke-width="1.3"/>
<line x1="201.4" y1="227.5" x2="201.4" y2="282.0" stroke="#000" stroke-width="1.3"/>
<line x1="205.6" y1="227.5" x2="205.6" y2="282.0" stroke="#000" stroke-width="1.3"/>
<line x1="197.6" y1="300.0" x2="197.6" y2="338.4" stroke="#000" stroke-width="1.3"/>
<line x1="201.4" y1="300.0" x2="201.4" y2="338.4" stroke="#000" stroke-width="1.3"/>
<line x1="205.6" y1="300.0" x2="205.6" y2="338.4" stroke="#000" stroke-width="1.3"/>
<line x1="197.6" y1="392.0" x2="197.6" y2="423.0" stroke="#000" stroke-width="1.3"/>
<line x1="201.4" y1="392.0" x2="201.4" y2="423.0" stroke="#000" stroke-width="1.3"/>
<line x1="205.6" y1="392.0" x2="205.6" y2="423.0" stroke="#000" stroke-width="1.3"/>
<line x1="343.3" y1="110.0" x2="343.3" y2="226.0" stroke="#000" stroke-width="1.9"/>
<line x1="369.6" y1="255.0" x2="369.6" y2="290.0" stroke="#000" stroke-width="1.8"/>
<path d="M369.6,255 A40,40 0 0 0 330,295" fill="none" stroke="#000" stroke-width="2.2" />
<line x1="247.0" y1="294.2" x2="273.6" y2="294.2" stroke="#000" stroke-width="2"/>
<path d="M242.2,294.2 L251.5,298 L250.5,294.2 Z" fill="#000" stroke="#000" stroke-width="0.6" />
<line x1="280.6" y1="297.5" x2="280.6" y2="342.3" stroke="#000" stroke-width="2"/>
<line x1="287.4" y1="309.8" x2="315.5" y2="338.4" stroke="#000" stroke-width="1.3"/>
<line x1="315.5" y1="309.8" x2="287.4" y2="338.4" stroke="#000" stroke-width="1.3"/>
<path d="M206.7,311.7 H213.8 V329.8 H206.7" fill="none" stroke="#000" stroke-width="1.8" />
<ellipse cx="226.4" cy="320.6" rx="13.3" ry="9" fill="#fff" stroke="#000" stroke-width="1.7"/>
<ellipse cx="227" cy="320.6" rx="10.4" ry="6.5" fill="none" stroke="#000" stroke-width="1.3"/>
<path d="M250,342.3 V329.3 H276 V342.3" fill="none" stroke="#000" stroke-width="2.1" />
<path d="M258.7,333 H272 V340.7 H258.7 Z" fill="none" stroke="#000" stroke-width="1.5" />
<line x1="197.3" y1="354.5" x2="197.3" y2="423.0" stroke="#000" stroke-width="1.5"/>
<line x1="197.0" y1="392.0" x2="206.7" y2="392.0" stroke="#000" stroke-width="1.5"/>
<line x1="206.0" y1="353.8" x2="245.0" y2="353.8" stroke="#000" stroke-width="2"/>
<path d="M245,353.8 A39,39 0 0 1 206,392.5" fill="none" stroke="#000" stroke-width="2.2" />
<line x1="282.8" y1="353.8" x2="321.7" y2="353.8" stroke="#000" stroke-width="2"/>
<path d="M282.8,353.8 A39,39 0 0 0 321.7,392.5" fill="none" stroke="#000" stroke-width="2.2" />
<path d="M206.7,400.3 H243 V429.4" fill="none" stroke="#000" stroke-width="2.3" />
<path d="M210.3,405.5 H237.3 V425.8 H210.3 Z" fill="none" stroke="#000" stroke-width="2" />
<line x1="154.0" y1="387.3" x2="154.0" y2="426.0" stroke="#000" stroke-width="1.8"/>
<line x1="154.0" y1="426.3" x2="192.0" y2="426.3" stroke="#000" stroke-width="1.5"/>
<path d="M154,387.3 A38.5,38.5 0 0 1 192,426" fill="none" stroke="#000" stroke-width="2.2" />
<line x1="145.0" y1="345.0" x2="145.0" y2="424.0" stroke="#000" stroke-width="1.3"/>
<line x1="148.6" y1="345.0" x2="148.6" y2="424.0" stroke="#000" stroke-width="1.3"/>
<line x1="125.0" y1="714.3" x2="261.7" y2="714.3" stroke="#000" stroke-width="1.5"/>
<line x1="125.0" y1="722.7" x2="261.7" y2="722.7" stroke="#000" stroke-width="1.5"/>
<path d="M275.6,528.3 H261.8 V578.6 H275.6" fill="none" stroke="#000" stroke-width="1.5" />
<line x1="276.2" y1="534.0" x2="276.2" y2="573.0" stroke="#000" stroke-width="1.5"/>
<line x1="263.0" y1="555.2" x2="285.8" y2="555.2" stroke="#000" stroke-width="2.4"/>
<path d="M253.2,555.2 L266,548.8 L263.4,555.2 L266.4,561.8 Z" fill="#000" stroke="#000" stroke-width="0.6" />
<line x1="278.0" y1="535.0" x2="318.7" y2="535.0" stroke="#000" stroke-width="2"/>
<path d="M318.7,535 A39.5,38 0 0 1 279,572.6" fill="none" stroke="#000" stroke-width="2.2" />
<line x1="366.5" y1="535.0" x2="406.0" y2="535.0" stroke="#000" stroke-width="2"/>
<path d="M366.5,535 A39.5,38 0 0 0 406,572.6" fill="none" stroke="#000" stroke-width="2.2" />
<rect x="284.7" y="444.7" width="17.7" height="30.3" rx="6.5" ry="6.5" fill="none" stroke="#000" stroke-width="1.9"/>
<line x1="305.4" y1="436.0" x2="305.4" y2="484.8" stroke="#000" stroke-width="1.8"/>
<line x1="281.0" y1="484.8" x2="368.0" y2="484.8" stroke="#000" stroke-width="1.8"/>
<line x1="365.9" y1="436.0" x2="365.9" y2="474.0" stroke="#000" stroke-width="1.8"/>
<path d="M326.8,436 A39.6,39.6 0 0 0 366,475" fill="none" stroke="#000" stroke-width="2.2" />
<line x1="287.0" y1="490.0" x2="318.4" y2="520.3" stroke="#000" stroke-width="1.3"/>
<line x1="318.4" y1="490.0" x2="287.0" y2="520.3" stroke="#000" stroke-width="1.3"/>
<line x1="367.2" y1="490.0" x2="398.6" y2="520.3" stroke="#000" stroke-width="1.3"/>
<line x1="398.6" y1="490.0" x2="367.2" y2="520.3" stroke="#000" stroke-width="1.3"/>
<line x1="297.8" y1="679.0" x2="394.0" y2="679.0" stroke="#000" stroke-width="1.3"/>
<line x1="297.8" y1="682.2" x2="394.0" y2="682.2" stroke="#000" stroke-width="1.3"/>
<line x1="297.8" y1="686.8" x2="394.0" y2="686.8" stroke="#000" stroke-width="1.3"/>
<line x1="413.0" y1="639.0" x2="413.0" y2="678.0" stroke="#000" stroke-width="1.9"/>
<path d="M413,639.5 A38.5,38.5 0 0 1 451.3,678" fill="none" stroke="#000" stroke-width="2.2" />
<line x1="284.0" y1="687.7" x2="460.0" y2="687.7" stroke="#000" stroke-width="1.6"/>
<line x1="347.0" y1="687.7" x2="347.0" y2="740.2" stroke="#000" stroke-width="1.6"/>
<line x1="347.0" y1="740.3" x2="460.0" y2="740.3" stroke="#000" stroke-width="1.6"/>
<line x1="459.3" y1="687.0" x2="459.3" y2="741.0" stroke="#000" stroke-width="2.4"/>
<line x1="460.0" y1="696.2" x2="499.0" y2="696.2" stroke="#000" stroke-width="1.8"/>
<path d="M499,696.2 A39,39 0 0 1 460,733" fill="none" stroke="#000" stroke-width="2.2" />
<line x1="460.0" y1="687.7" x2="597.0" y2="687.7" stroke="#000" stroke-width="1.6"/>
<line x1="597.0" y1="687.0" x2="597.0" y2="741.0" stroke="#000" stroke-width="2"/>
<line x1="458.0" y1="741.0" x2="610.0" y2="741.0" stroke="#000" stroke-width="2"/>
<line x1="474.0" y1="678.8" x2="517.6" y2="678.8" stroke="#000" stroke-width="1.9"/>
<line x1="474.0" y1="682.4" x2="517.6" y2="682.4" stroke="#000" stroke-width="1.4"/>
<line x1="474.0" y1="686.6" x2="566.7" y2="686.6" stroke="#000" stroke-width="1.5"/>
<line x1="517.4" y1="678.0" x2="517.4" y2="686.6" stroke="#000" stroke-width="1.9"/>
<line x1="522.5" y1="682.9" x2="560.0" y2="682.9" stroke="#000" stroke-width="2.4"/>
<path d="M550.5,678.3 L562,683.6 L551,683.6 Z" fill="#000" stroke="#000" stroke-width="0.6" />
<path d="M580.2,678 V673 H622.6 V678" fill="none" stroke="#000" stroke-width="1.9" />
<line x1="633.7" y1="679.0" x2="753.7" y2="679.0" stroke="#000" stroke-width="1.3"/>
<line x1="633.7" y1="682.3" x2="753.7" y2="682.3" stroke="#000" stroke-width="1.3"/>
<line x1="633.7" y1="686.7" x2="753.7" y2="686.7" stroke="#000" stroke-width="1.3"/>
<line x1="765.5" y1="561.7" x2="765.5" y2="658.3" stroke="#000" stroke-width="1.3"/>
<line x1="769.7" y1="561.7" x2="769.7" y2="658.3" stroke="#000" stroke-width="1.3"/>
<line x1="773.9" y1="561.7" x2="773.9" y2="658.3" stroke="#000" stroke-width="1.3"/>
<line x1="667.6" y1="391.1" x2="740.2" y2="391.1" stroke="#000" stroke-width="1.3"/>
<line x1="667.6" y1="394.3" x2="740.2" y2="394.3" stroke="#000" stroke-width="1.3"/>
<line x1="667.6" y1="398.9" x2="740.2" y2="398.9" stroke="#000" stroke-width="1.3"/>
<line x1="622.8" y1="313.3" x2="622.8" y2="386.7" stroke="#000" stroke-width="1.3"/>
<line x1="626.3" y1="313.3" x2="626.3" y2="386.7" stroke="#000" stroke-width="1.3"/>
<line x1="630.7" y1="313.3" x2="630.7" y2="386.7" stroke="#000" stroke-width="1.3"/>
<line x1="627.0" y1="431.4" x2="732.5" y2="431.4" stroke="#000" stroke-width="2.1"/>
<line x1="731.6" y1="431.0" x2="731.6" y2="539.0" stroke="#000" stroke-width="2"/>
<line x1="623.6" y1="441.0" x2="623.6" y2="477.7" stroke="#000" stroke-width="2"/>
<path d="M624.2,440.2 L618.2,450 L623.2,448.2 Z" fill="#000" stroke="#000" stroke-width="0.6" />
<path d="M676.4,402.1 H733.7 V428.9 H676.4 Z" fill="none" stroke="#000" stroke-width="1.7" />
<path d="M678.3,403.9 H731.9 V427.1 H678.3 Z" fill="none" stroke="#000" stroke-width="0.9" />
<line x1="679.3" y1="406.3" x2="690.6" y2="406.3" stroke="#000" stroke-width="1.3"/>
<line x1="679.3" y1="409.4" x2="690.6" y2="409.4" stroke="#000" stroke-width="1.3"/>
<line x1="679.3" y1="412.5" x2="690.6" y2="412.5" stroke="#000" stroke-width="1.3"/>
<line x1="679.3" y1="415.6" x2="690.6" y2="415.6" stroke="#000" stroke-width="1.3"/>
<line x1="679.3" y1="418.7" x2="690.6" y2="418.7" stroke="#000" stroke-width="1.3"/>
<line x1="679.3" y1="421.8" x2="690.6" y2="421.8" stroke="#000" stroke-width="1.3"/>
<line x1="679.3" y1="424.9" x2="690.6" y2="424.9" stroke="#000" stroke-width="1.3"/>
<rect x="692.5" y="404.6" width="17.8" height="21.6" rx="4.5" fill="none" stroke="#000" stroke-width="1.5"/>
<rect x="712.1" y="404.6" width="17.8" height="21.6" rx="4.5" fill="none" stroke="#000" stroke-width="1.5"/>
<circle cx="706.5" cy="414.8" r="1.3" fill="#999" stroke="#000" stroke-width="0.9"/>
<circle cx="716.1" cy="414.8" r="1.3" fill="#999" stroke="#000" stroke-width="0.9"/>
<path d="M732.7,462.4 H763.6 V498.9 H732.7 Z" fill="none" stroke="#000" stroke-width="1.6" />
<path d="M735.3,465.4 H761.3 V496 H735.3 Z" fill="none" stroke="#000" stroke-width="1.8" />
<line x1="748.2" y1="465.4" x2="748.2" y2="493.0" stroke="#000" stroke-width="1.5"/>
<line x1="735.3" y1="479.1" x2="761.3" y2="479.1" stroke="#000" stroke-width="1.5"/>
<line x1="735.3" y1="493.2" x2="761.3" y2="493.2" stroke="#000" stroke-width="1.5"/>
<line x1="734.9" y1="472.1" x2="747.9" y2="472.1" stroke="#000" stroke-width="1.1"/>
<line x1="741.4" y1="465.6" x2="741.4" y2="478.6" stroke="#000" stroke-width="1.1"/>
<circle cx="741.4" cy="472.1" r="4.3" fill="#fff" stroke="#000" stroke-width="1.9"/>
<line x1="749.5" y1="471.7" x2="759.1" y2="471.7" stroke="#000" stroke-width="1.1"/>
<line x1="754.3" y1="466.9" x2="754.3" y2="476.5" stroke="#000" stroke-width="1.1"/>
<circle cx="754.3" cy="471.7" r="2.6" fill="#fff" stroke="#000" stroke-width="1.7"/>
<line x1="736.6" y1="485.6" x2="746.2" y2="485.6" stroke="#000" stroke-width="1.1"/>
<line x1="741.4" y1="480.8" x2="741.4" y2="490.4" stroke="#000" stroke-width="1.1"/>
<circle cx="741.4" cy="485.6" r="2.6" fill="#fff" stroke="#000" stroke-width="1.7"/>
<line x1="749.5" y1="485.6" x2="759.1" y2="485.6" stroke="#000" stroke-width="1.1"/>
<line x1="754.3" y1="480.8" x2="754.3" y2="490.4" stroke="#000" stroke-width="1.1"/>
<circle cx="754.3" cy="485.6" r="2.6" fill="#fff" stroke="#000" stroke-width="1.7"/>
<line x1="389.8" y1="289.5" x2="425.3" y2="289.5" stroke="#000" stroke-width="1.3"/>
<line x1="389.8" y1="292.5" x2="425.3" y2="292.5" stroke="#000" stroke-width="1.3"/>
<line x1="389.8" y1="297.0" x2="425.3" y2="297.0" stroke="#000" stroke-width="1.3"/>
<line x1="389.8" y1="289.5" x2="389.8" y2="297.0" stroke="#000" stroke-width="1"/>
<path d="M398.7,298 V304.6 H417.6 V298" fill="none" stroke="#000" stroke-width="1.8" />
<ellipse cx="408.1" cy="317.8" rx="9.5" ry="13" fill="#fff" stroke="#000" stroke-width="1.7"/>
<ellipse cx="408.1" cy="318.3" rx="6.5" ry="10.3" fill="none" stroke="#000" stroke-width="1.3"/>
<line x1="381.3" y1="373.6" x2="420.0" y2="373.6" stroke="#000" stroke-width="1.8"/>
<path d="M381.3,335.3 A39,39 0 0 1 420.3,374.2" fill="none" stroke="#000" stroke-width="2.2" />
<line x1="465.8" y1="302.0" x2="465.8" y2="373.0" stroke="#000" stroke-width="1.9"/>
<line x1="436.7" y1="423.3" x2="475.6" y2="423.3" stroke="#000" stroke-width="2"/>
<path d="M436.7,384 A39,39 0 0 1 475.5,423.5" fill="none" stroke="#000" stroke-width="2.2" />
</g>
<g id="yard">
<line x1="100.7" y1="723.0" x2="100.7" y2="1091.0" stroke="#000" stroke-width="1.3"/>
<line x1="123.3" y1="723.0" x2="123.3" y2="1091.0" stroke="#000" stroke-width="1.3"/>
<line x1="100.0" y1="1091.0" x2="329.0" y2="1091.0" stroke="#000" stroke-width="1.3"/>
<path d="M458.3,741 L328.3,900 L328.3,1091 L720,1091 L773.3,1036.7 L773.3,688" fill="none" stroke="#000" stroke-width="2.6" stroke-linejoin="miter"/>
<line x1="284.0" y1="687.7" x2="284.0" y2="802.0" stroke="#000" stroke-width="1.3"/>
<path d="M284,800 C284,818 289,823 298,823 C322,821 346,775 347.3,740.3" fill="none" stroke="#000" stroke-width="1.3" />
<path d="M597,741 L600,741 C655,741 719.5,792 719.5,850 L719.5,960 C719.5,1020 680,1054 612,1054 L462,1054 C410,1054 371.5,1012 371.5,952 C371.5,905 390,866 422.3,842" fill="none" stroke="#000" stroke-width="1.4" />
<line x1="509.5" y1="741.6" x2="552.0" y2="741.6" stroke="#000" stroke-width="1.3"/>
<line x1="509.5" y1="755.8" x2="552.0" y2="755.8" stroke="#000" stroke-width="1.3"/>
<line x1="509.5" y1="770.0" x2="552.0" y2="770.0" stroke="#000" stroke-width="1.6"/>
<line x1="509.6" y1="741.0" x2="509.6" y2="786.0" stroke="#000" stroke-width="1.3"/>
<line x1="551.9" y1="741.0" x2="551.9" y2="786.0" stroke="#000" stroke-width="1.3"/>
<line x1="531.0" y1="736.5" x2="531.0" y2="768.0" stroke="#000" stroke-width="1.8"/>
<path d="M525.8,764.3 L536.2,764.3 L531,777 Z" fill="#000" stroke="#000" stroke-width="0.6" />
<path d="M458,769.8 L602.5,769.8 L638.3,813 L638.3,945.5 L602.5,985 L458,985 L422.3,945.5 L422.3,813 Z" fill="none" stroke="#000" stroke-width="1.1" />
<path d="M458,769.8 L493.8,801 L509.6,786" fill="none" stroke="#000" stroke-width="1.2" />
<path d="M602.5,769.8 L568.3,801 L551.9,786" fill="none" stroke="#000" stroke-width="1.2" />
<path d="M422.3,815 L455.1,845 L422.3,873.3" fill="none" stroke="#000" stroke-width="1.2" />
<path d="M422.3,880 L455.1,910 L422.3,941.7" fill="none" stroke="#000" stroke-width="1.2" />
<path d="M638.3,815 L605.5,845 L638.3,873.3" fill="none" stroke="#000" stroke-width="1.2" />
<path d="M638.3,880 L605.5,910 L638.3,941.7" fill="none" stroke="#000" stroke-width="1.2" />
<path d="M461,985 L493.8,953 L528,985" fill="none" stroke="#000" stroke-width="1.2" />
<path d="M534,985 L568.3,953 L602.5,985" fill="none" stroke="#000" stroke-width="1.2" />
</g>
<g id="car">
<path d="M184.9,765.3 L226.1,765.3 C238,766.5 248.5,782 250.3,799 L250.2,836 L249.6,960 C249.4,978 246,988 239.8,992 C232,998.5 218,1000.8 205.5,1000.8 C193,1000.8 179,998.5 171.1,992 C165,988 161.6,978 161.4,960 L160.9,836 L160.8,799 C162.5,782 173,766.5 184.9,765.3 Z" fill="#fff" stroke="#000" stroke-width="1.9" stroke-linejoin="round" stroke-linecap="round"/>
<path d="M162.6,842 L162.9,960 C163.2,975 165.5,985 169.5,990" fill="none" stroke="#000" stroke-width="1.8" stroke-linejoin="round" stroke-linecap="round"/>
<path d="M248.4,842 L248.1,960 C247.8,975 245.5,985 241.5,990" fill="none" stroke="#000" stroke-width="1.3" stroke-linejoin="round" stroke-linecap="round"/>
<path d="M178,774.2 C171,790 166,806 164.3,819" fill="none" stroke="#000" stroke-width="1" stroke-linejoin="round" stroke-linecap="round"/>
<path d="M232.3,774.2 C239.5,790 245,806 246.7,819" fill="none" stroke="#000" stroke-width="1" stroke-linejoin="round" stroke-linecap="round"/>
<path d="M169.6,820 C176,814.5 190,809.8 205.5,809.7 C221,809.8 235,814.5 241.4,820 C243,821.5 243,823 242.7,825 L239.8,854 C228,850.2 216,849.2 205.5,849.2 C195,849.2 183,850.2 171.8,854 L168.3,825 C168,823 168,821.5 169.6,820 Z" fill="none" stroke="#000" stroke-width="1.5" stroke-linejoin="round" stroke-linecap="round"/>
<path d="M164.6,834 C166,842 169,849 171.8,854" fill="none" stroke="#000" stroke-width="1.2" stroke-linejoin="round" stroke-linecap="round"/>
<path d="M246.4,834 C245,842 242,849 239.8,854" fill="none" stroke="#000" stroke-width="1.2" stroke-linejoin="round" stroke-linecap="round"/>
<path d="M166.6,838 L167.6,960 C168,972 170,978 171.8,974.5" fill="none" stroke="#000" stroke-width="1" stroke-linejoin="round" stroke-linecap="round"/>
<path d="M244.4,838 L243.4,960 C243,972 241,978 239.8,974.5" fill="none" stroke="#000" stroke-width="1" stroke-linejoin="round" stroke-linecap="round"/>
<path d="M171.8,854 L173.2,942" fill="none" stroke="#000" stroke-width="1.2" stroke-linejoin="round" stroke-linecap="round"/>
<path d="M239.8,854 L237.4,942" fill="none" stroke="#000" stroke-width="1.2" stroke-linejoin="round" stroke-linecap="round"/>
<path d="M169.8,856 L171.2,942 L171.8,974.5" fill="none" stroke="#000" stroke-width="0.9" stroke-linejoin="round" stroke-linecap="round"/>
<path d="M241.8,856 L239.6,942 L239.8,974.5" fill="none" stroke="#000" stroke-width="0.9" stroke-linejoin="round" stroke-linecap="round"/>
<path d="M173.2,942 Q205.5,952 237.4,942 L239.8,974.5 Q205.5,989.5 171.8,974.5 Z" fill="none" stroke="#000" stroke-width="1.4" stroke-linejoin="round" stroke-linecap="round"/>
<path d="M171.8,974.5 L173.9,992.4" fill="none" stroke="#000" stroke-width="1" stroke-linejoin="round" stroke-linecap="round"/>
<path d="M239.8,974.5 L238.5,992.4" fill="none" stroke="#000" stroke-width="1" stroke-linejoin="round" stroke-linecap="round"/>
<path d="M173.9,992.4 Q205.5,999.5 238.5,992.4" fill="none" stroke="#000" stroke-width="0.9" stroke-linejoin="round" stroke-linecap="round"/>
<rect x="182.3" y="863.3" width="46.8" height="25" rx="2.5" fill="none" stroke="#000" stroke-width="1.8"/>
<path d="M163.5,882 L171.5,890.5" fill="none" stroke="#000" stroke-width="0.9" stroke-linejoin="round" stroke-linecap="round"/>
<path d="M163.5,887.5 L171.5,896" fill="none" stroke="#000" stroke-width="0.9" stroke-linejoin="round" stroke-linecap="round"/>
<path d="M165.6,931.2 L170.5,933.5" fill="none" stroke="#000" stroke-width="0.9" stroke-linejoin="round" stroke-linecap="round"/>
<path d="M247.5,882 L239.5,890.5" fill="none" stroke="#000" stroke-width="0.9" stroke-linejoin="round" stroke-linecap="round"/>
<path d="M247.5,887.5 L239.5,896" fill="none" stroke="#000" stroke-width="0.9" stroke-linejoin="round" stroke-linecap="round"/>
<path d="M245.4,931.2 L240.6,933.5" fill="none" stroke="#000" stroke-width="0.9" stroke-linejoin="round" stroke-linecap="round"/>
<path d="M164.3,834.6 L157,836.5 C153.5,838.5 152.4,842 153.2,845.6 L155.8,845.4 C157.5,841.5 160.5,839.3 164.9,838.6 Z" fill="#fff" stroke="#000" stroke-width="1.2" stroke-linejoin="round" stroke-linecap="round"/>
<path d="M246.7,834.6 L254,836.5 C257.5,838.5 258.6,842 257.8,845.6 L255.2,845.4 C253.5,841.5 250.5,839.3 246.1,838.6 Z" fill="#fff" stroke="#000" stroke-width="1.2" stroke-linejoin="round" stroke-linecap="round"/>
<rect x="203.6" y="932" width="3.8" height="6.8" rx="1.6" fill="none" stroke="#000" stroke-width="1"/>
</g>
<g id="compass">
<circle cx="514.3" cy="179.2" r="38.4" fill="none" stroke="#000" stroke-width="2.2"/>
<line x1="472.0" y1="179.2" x2="557.7" y2="179.2" stroke="#000" stroke-width="1.1"/>
<line x1="513.2" y1="136.1" x2="513.2" y2="222.7" stroke="#000" stroke-width="1.1"/>
<path d="M512.8,142.6 L551.6,179.2 L512.8,215.7 L512.8,195.6 L518,195.6 L518,203.8 L542.6,179.2 L518,155.2 L518,163.4 L512.8,163.4 Z" fill="#000"/>
<path d="M489.9,194.3 L489.9,165.3 L496.6,165.3 L508.9,186.5 L508.9,165.3 L513.6,165.3 L513.6,194.3 L506.9,194.3 L494.7,173.5 L494.7,194.3 Z" fill="#000"/>
</g>
<g id="labels" font-family="'Liberation Sans', sans-serif" fill="#000" stroke="#000" stroke-width="0.45" stroke-linejoin="round" style="opacity:0.999">
<text x="281.9" y="192.3" font-size="26.5" text-anchor="middle" font-weight="normal">bed</text>
<text x="281.7" y="215.0" font-size="18.5" text-anchor="middle" font-weight="normal">3.6 x 3.4</text>
<text x="539.3" y="359.4" font-size="26.5" text-anchor="middle" font-weight="normal">bed</text>
<text x="539.3" y="382.0" font-size="18.5" text-anchor="middle" font-weight="normal">2.6 x 3.8</text>
<text x="522.0" y="549.4" font-size="26.5" text-anchor="middle" font-weight="normal">living</text>
<text x="522.3" y="574.5" font-size="18.5" text-anchor="middle" font-weight="normal">4.8 x 4.3</text>
<text x="694.2" y="611.2" font-size="26.5" text-anchor="middle" font-weight="normal">dining</text>
<text x="693.9" y="636.3" font-size="18.5" text-anchor="middle" font-weight="normal">2.7 x 2.8</text>
<text x="686.5" y="492.4" font-size="26.5" text-anchor="middle" font-weight="normal">kit.</text>
<text x="191.5" y="574.0" font-size="26.5" text-anchor="middle" font-weight="normal">garage</text>
<text x="191.3" y="597.7" font-size="18.5" text-anchor="middle" font-weight="normal">5.4 x 3.3</text>
<text x="342.8" y="601.5" font-size="26.5" text-anchor="middle" font-weight="normal">bed /</text>
<text x="341.8" y="628.0" font-size="26.5" text-anchor="middle" font-weight="normal">study</text>
<text x="342.0" y="653.4" font-size="18.5" text-anchor="middle" font-weight="normal">3.0 x 2.5</text>
<text x="531.1" y="887.5" font-size="22.6" text-anchor="middle" font-weight="normal">courtyard</text>
<text x="430.7" y="704.8" font-size="18.5" text-anchor="middle" font-weight="normal">entry</text>
<text x="278.2" y="414.0" font-size="22" text-anchor="middle" font-weight="normal">l’dry</text>
<text x="259.4" y="318.0" font-size="16" text-anchor="middle" font-weight="normal">ens</text>
<text x="324.6" y="479.0" font-size="14" text-anchor="middle" font-weight="normal">bath</text>
<text x="644.1" y="421.5" font-size="17" text-anchor="middle" font-weight="normal">R</text>
<text x="601.5" y="668.7" font-size="13" text-anchor="middle" font-weight="normal" stroke-width="0.75">AC</text>
<text x="296.2" y="559.0" font-size="10" text-anchor="middle" font-weight="normal" stroke-width="0.7">DN</text>
<text x="530.8" y="731.7" font-size="10" text-anchor="middle" font-weight="normal" stroke-width="0.7">DN</text>
<text x="680.6" y="443.4" font-size="9.7" text-anchor="middle" font-weight="normal" stroke-width="0.6" textLength="15.4" lengthAdjust="spacingAndGlyphs">DW</text>
<text x="186.5" y="202.2" font-size="11" text-anchor="middle" font-weight="normal" stroke-width="0.5" textLength="16" lengthAdjust="spacingAndGlyphs">HW</text>
<text x="355.0" y="168.3" font-size="18" text-anchor="middle" font-weight="normal" transform="rotate(90 355.0 168.3)">robe</text>
<text x="456.8" y="339.0" font-size="18" text-anchor="middle" font-weight="normal" transform="rotate(-90 456.8 339.0)">robe</text>
<text x="130.2" y="385.5" font-size="19.5" text-anchor="middle" font-weight="normal" transform="rotate(-90 130.2 385.5)">store</text>
</g>
</svg>
</body></html>
